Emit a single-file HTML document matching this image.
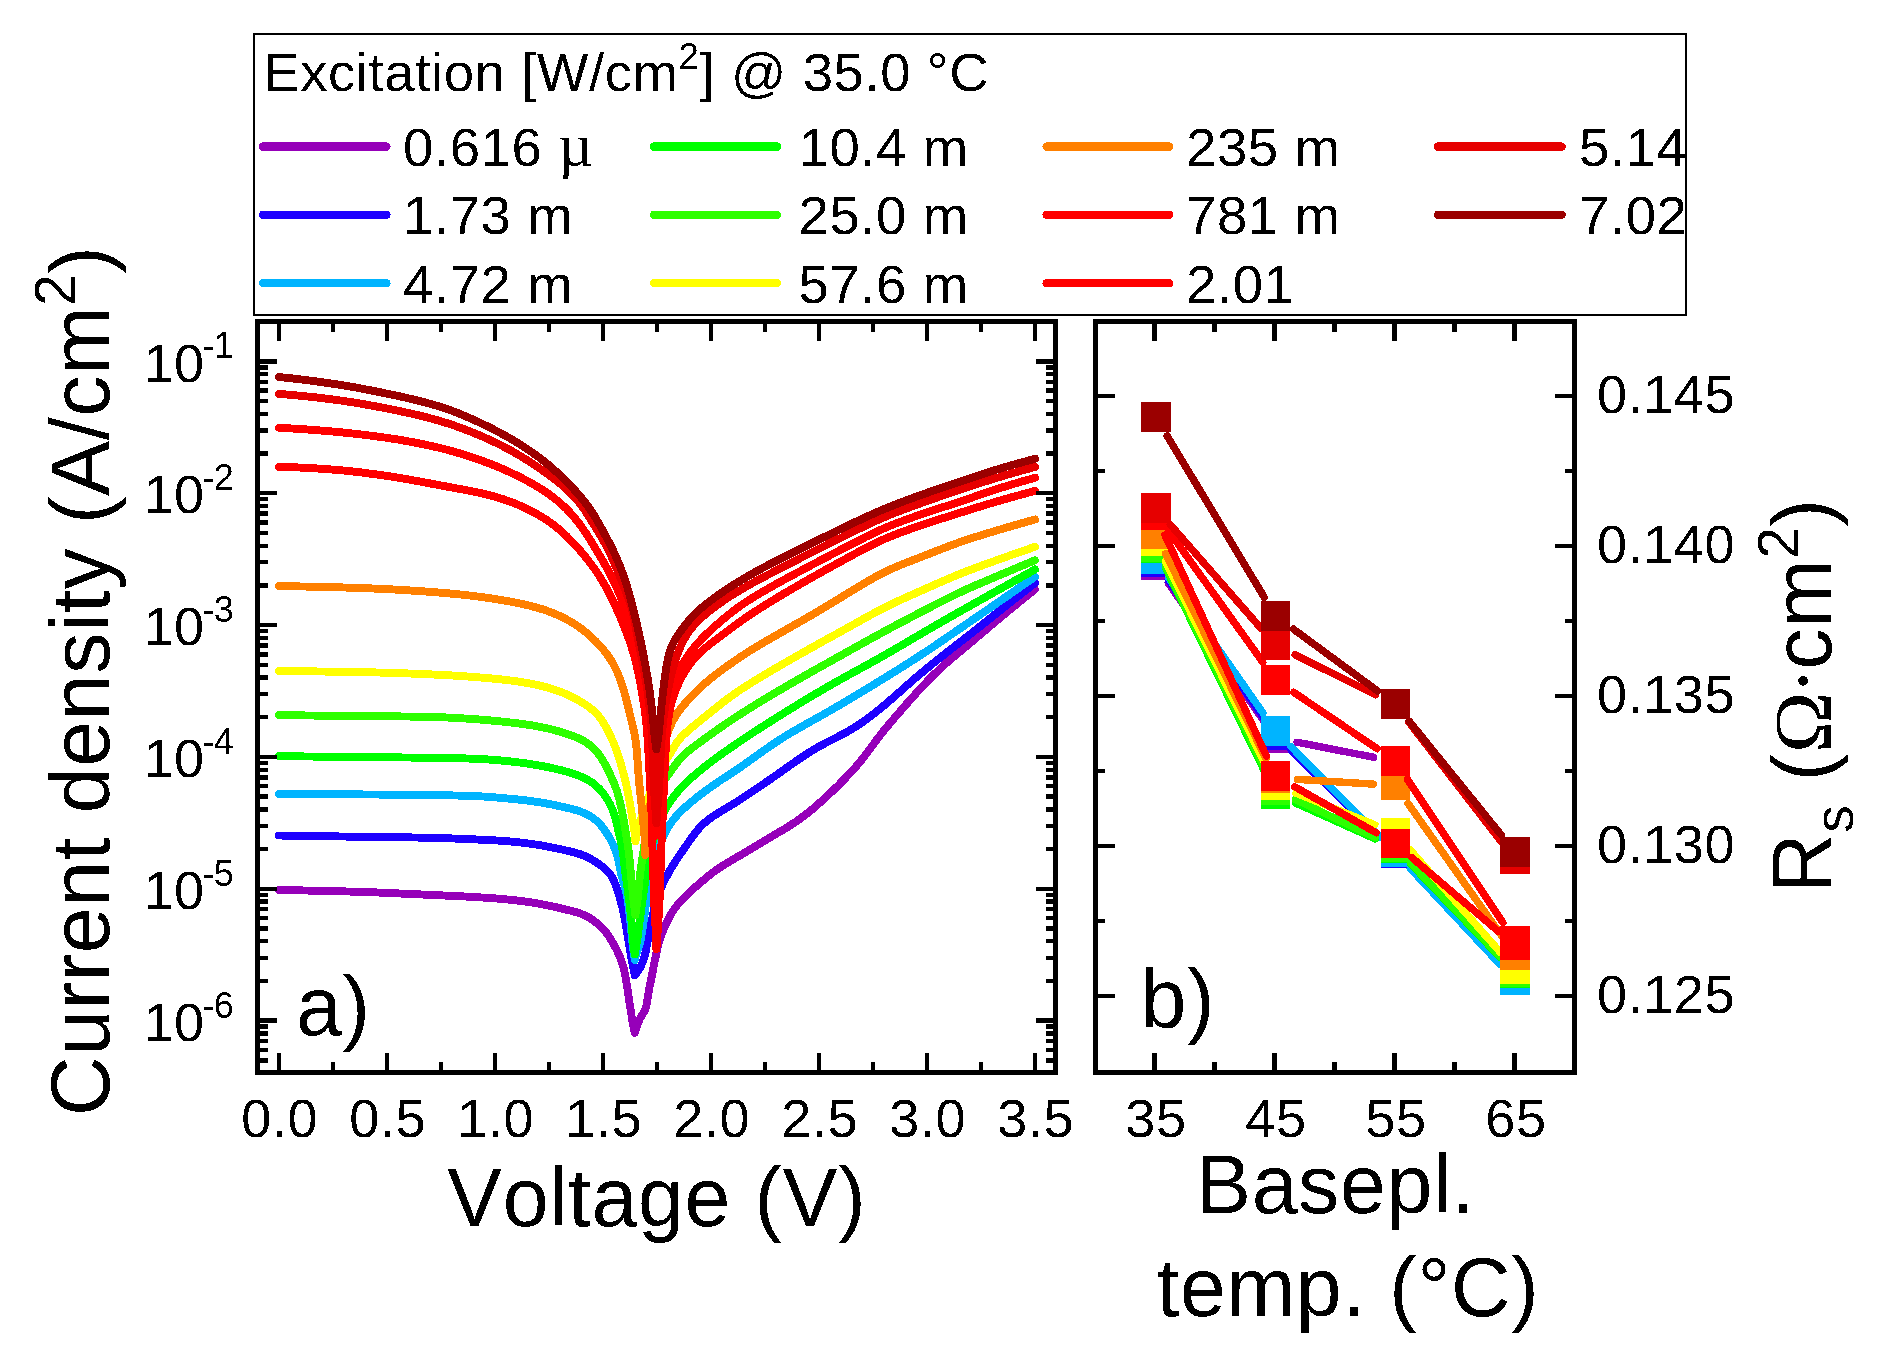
<!DOCTYPE html>
<html lang="en">
<head>
<meta charset="utf-8">
<title>Excitation dependent J-V curves and series resistance</title>
<style>
html,body{margin:0;padding:0;background:#fff;}
body{width:1890px;height:1353px;overflow:hidden;}
svg{display:block;}
text{fill:#000;font-kerning:none;letter-spacing:0.6px;}
</style>
</head>
<body>
<svg width="1890" height="1353" viewBox="0 0 1890 1353">
<rect x="0" y="0" width="1890" height="1353" fill="#fff"/>
<g fill="none" stroke-linecap="round" stroke-linejoin="round" shape-rendering="crispEdges" stroke-width="7.9">
<path d="M279.00,890.10 C283.68,890.16 288.36,890.22 293.04,890.29 C297.71,890.37 302.39,890.44 307.07,890.53 C311.75,890.62 316.43,890.72 321.10,890.83 C325.78,890.93 330.46,891.04 335.13,891.16 C339.81,891.28 344.49,891.40 349.16,891.54 C353.84,891.67 358.51,891.81 363.19,891.97 C367.86,892.13 372.54,892.31 377.21,892.49 C381.89,892.68 386.56,892.89 391.24,893.09 C395.91,893.30 400.58,893.52 405.26,893.74 C409.93,893.96 414.60,894.19 419.28,894.40 C423.95,894.62 428.63,894.83 433.30,895.05 C437.97,895.26 442.65,895.45 447.32,895.66 C452.00,895.88 456.67,896.08 461.34,896.31 C466.01,896.55 470.77,896.80 475.36,897.07 C479.77,897.33 484.12,897.61 488.36,897.91 C492.44,898.20 496.36,898.50 500.36,898.85 C504.35,899.19 508.43,899.57 512.33,899.99 C516.07,900.39 519.64,900.81 523.28,901.29 C526.93,901.78 530.65,902.31 534.19,902.89 C537.57,903.43 540.86,904.02 544.06,904.64 C547.08,905.23 549.95,905.85 552.89,906.50 C555.83,907.15 558.76,907.85 561.70,908.54 C564.64,909.24 567.69,909.94 570.52,910.68 C573.19,911.37 575.74,911.98 578.26,912.83 C580.77,913.66 583.33,914.60 585.62,915.70 C587.76,916.74 589.69,917.91 591.61,919.20 C593.55,920.50 595.41,921.95 597.21,923.45 C599.00,924.96 600.80,926.60 602.36,928.21 C603.80,929.69 605.05,931.15 606.28,932.72 C607.50,934.29 608.62,935.97 609.71,937.64 C610.80,939.33 611.86,941.15 612.83,942.81 C613.70,944.32 614.48,945.72 615.26,947.20 C616.04,948.68 616.81,950.17 617.52,951.68 C618.24,953.18 618.92,954.71 619.57,956.25 C620.21,957.79 620.86,959.43 621.40,960.92 C621.88,962.24 622.29,963.44 622.68,964.72 C623.08,965.99 623.43,967.28 623.76,968.57 C624.08,969.86 624.37,971.16 624.64,972.47 C624.91,973.77 625.17,975.18 625.39,976.41 C625.59,977.47 625.74,978.39 625.91,979.38 C626.08,980.37 626.24,981.36 626.41,982.35 C626.57,983.34 626.74,984.33 626.90,985.32 C627.06,986.31 627.22,987.30 627.38,988.29 C627.53,989.28 627.69,990.27 627.84,991.26 C627.99,992.25 628.13,993.25 628.28,994.24 C628.43,995.23 628.57,996.22 628.72,997.21 C628.86,998.21 629.01,999.20 629.15,1000.19 C629.30,1001.18 629.45,1002.17 629.60,1003.17 C629.75,1004.16 629.90,1005.15 630.05,1006.14 C630.21,1007.13 630.36,1008.12 630.51,1009.11 C630.67,1010.10 630.82,1011.09 630.98,1012.08 C631.13,1013.07 631.29,1014.06 631.44,1015.05 C631.60,1016.05 631.76,1017.04 631.92,1018.02 C632.08,1019.01 632.25,1020.00 632.42,1020.99 C632.59,1021.98 632.76,1022.97 632.94,1023.95 C633.11,1024.94 633.30,1025.92 633.49,1026.91 C633.68,1027.89 633.88,1028.87 634.08,1029.86 C634.28,1030.84 634.49,1031.82 634.70,1032.80" stroke="#9600b9"/>
<path d="M634.70,1032.80 C635.00,1031.84 635.28,1030.87 635.59,1029.91 C635.90,1028.95 636.22,1028.00 636.55,1027.05 C636.89,1026.10 637.24,1025.16 637.60,1024.23 C637.96,1023.30 638.33,1022.37 638.73,1021.45 C639.13,1020.53 639.53,1019.62 639.99,1018.73 C640.45,1017.83 640.96,1016.95 641.47,1016.08 C641.98,1015.20 642.55,1014.35 643.07,1013.48 C643.58,1012.61 644.10,1011.75 644.54,1010.85 C644.97,1009.97 645.34,1009.06 645.66,1008.14 C645.98,1007.22 646.21,1006.27 646.43,1005.31 C646.66,1004.35 646.84,1003.38 647.03,1002.40 C647.21,1001.41 647.36,1000.42 647.52,999.42 C647.68,998.42 647.82,997.42 647.98,996.41 C648.13,995.41 648.27,994.41 648.43,993.41 C648.59,992.41 648.76,991.41 648.94,990.42 C649.11,989.43 649.30,988.45 649.49,987.46 C649.68,986.48 649.88,985.49 650.07,984.51 C650.27,983.53 650.46,982.61 650.67,981.56 C650.91,980.34 651.20,978.94 651.46,977.63 C651.73,976.32 651.99,975.01 652.26,973.70 C652.52,972.39 652.77,971.08 653.03,969.77 C653.29,968.45 653.53,967.21 653.80,965.83 C654.11,964.28 654.45,962.55 654.78,960.91 C655.11,959.28 655.45,957.64 655.79,956.00 C656.14,954.37 656.48,952.73 656.84,951.10 C657.20,949.46 657.53,947.90 657.95,946.20 C658.41,944.35 658.92,942.32 659.51,940.41 C660.09,938.49 660.74,936.60 661.44,934.73 C662.14,932.85 662.88,931.06 663.69,929.14 C664.57,927.07 665.55,924.83 666.55,922.71 C667.54,920.59 668.56,918.47 669.68,916.43 C670.81,914.39 671.95,912.45 673.30,910.47 C674.74,908.34 676.43,906.16 678.12,904.10 C679.83,902.05 681.59,900.13 683.49,898.14 C685.51,896.04 687.74,893.90 689.94,891.85 C692.14,889.80 694.36,887.89 696.70,885.86 C699.17,883.73 701.80,881.51 704.38,879.38 C706.95,877.25 709.45,875.13 712.17,873.06 C715.02,870.89 717.99,868.74 721.12,866.68 C724.39,864.53 727.95,862.52 731.39,860.47 C734.84,858.43 738.26,856.49 741.79,854.41 C745.45,852.24 749.17,849.99 752.96,847.71 C756.90,845.34 760.97,842.87 765.00,840.47 C769.02,838.08 773.08,835.74 777.10,833.34 C781.12,830.95 785.19,828.62 789.13,826.11 C793.07,823.61 796.97,821.04 800.74,818.30 C804.51,815.56 808.17,812.64 811.78,809.67 C815.39,806.70 818.90,803.60 822.37,800.47 C825.85,797.34 829.26,794.14 832.62,790.89 C835.99,787.65 839.31,784.35 842.58,781.00 C845.85,777.65 849.10,774.28 852.23,770.81 C855.36,767.35 858.44,763.82 861.37,760.19 C864.31,756.57 867.06,752.78 869.86,749.05 C872.67,745.31 875.36,741.48 878.22,737.78 C881.07,734.07 884.01,730.43 886.98,726.82 C889.95,723.21 893.01,719.67 896.06,716.12 C899.10,712.57 902.17,709.04 905.26,705.52 C908.35,702.01 911.44,698.50 914.58,695.03 C917.71,691.55 920.86,688.09 924.07,684.69 C927.29,681.29 930.52,677.91 933.86,674.64 C937.20,671.37 940.62,668.19 944.11,665.08 C947.59,661.96 951.20,658.98 954.77,655.96 C958.34,652.94 961.95,649.97 965.53,646.96 C969.11,643.94 972.68,640.92 976.25,637.90 C979.83,634.88 983.40,631.86 986.97,628.84 C990.55,625.82 994.12,622.80 997.70,619.79 C1001.29,616.79 1004.88,613.79 1008.48,610.81 C1012.09,607.83 1015.71,604.88 1019.35,601.93 C1022.99,598.99 1027.40,595.46 1030.30,593.15 C1032.19,591.63 1033.43,590.65 1035.00,589.40" stroke="#9600b9"/>
<path d="M279.00,835.50 C283.68,835.58 288.36,835.65 293.05,835.73 C297.73,835.80 302.41,835.88 307.09,835.95 C311.77,836.03 316.46,836.10 321.14,836.17 C325.82,836.25 330.50,836.32 335.19,836.39 C339.87,836.46 344.55,836.54 349.23,836.60 C353.91,836.67 358.60,836.74 363.28,836.80 C367.96,836.87 372.64,836.93 377.33,836.99 C382.01,837.05 386.69,837.10 391.37,837.16 C396.06,837.22 400.74,837.28 405.42,837.35 C410.10,837.42 414.78,837.49 419.47,837.58 C424.15,837.66 428.83,837.76 433.51,837.87 C438.19,837.99 442.87,838.13 447.55,838.29 C452.23,838.44 456.91,838.63 461.59,838.81 C466.27,839.00 471.03,839.21 475.63,839.42 C480.05,839.62 484.40,839.82 488.66,840.04 C492.75,840.26 496.68,840.47 500.68,840.75 C504.68,841.02 508.77,841.33 512.68,841.69 C516.42,842.04 520.00,842.43 523.65,842.88 C527.30,843.32 531.04,843.84 534.59,844.37 C537.97,844.88 541.19,845.41 544.48,846.00 C547.78,846.58 551.15,847.25 554.34,847.91 C557.37,848.53 560.24,849.15 563.19,849.82 C566.14,850.48 569.19,851.16 572.02,851.89 C574.69,852.58 577.22,853.22 579.74,854.07 C582.24,854.92 584.79,855.89 587.10,856.98 C589.27,858.00 591.21,859.16 593.21,860.37 C595.22,861.59 597.19,862.92 599.12,864.28 C601.04,865.64 603.07,867.04 604.76,868.51 C606.31,869.85 607.69,871.16 608.94,872.67 C610.19,874.18 611.27,875.86 612.25,877.58 C613.25,879.31 614.11,881.26 614.86,883.02 C615.55,884.63 616.09,886.14 616.64,887.72 C617.19,889.30 617.68,890.90 618.17,892.50 C618.66,894.11 619.13,895.72 619.60,897.33 C620.06,898.93 620.55,900.63 620.97,902.16 C621.34,903.52 621.66,904.74 621.99,906.04 C622.31,907.33 622.63,908.63 622.93,909.94 C623.23,911.24 623.51,912.55 623.79,913.86 C624.06,915.17 624.34,916.57 624.58,917.79 C624.79,918.85 624.96,919.76 625.14,920.75 C625.33,921.74 625.50,922.72 625.68,923.71 C625.85,924.70 626.03,925.69 626.19,926.68 C626.36,927.67 626.53,928.65 626.69,929.64 C626.86,930.63 627.02,931.63 627.18,932.62 C627.34,933.61 627.50,934.60 627.66,935.59 C627.82,936.58 627.98,937.57 628.14,938.56 C628.30,939.55 628.46,940.54 628.62,941.53 C628.79,942.52 628.95,943.51 629.11,944.50 C629.28,945.49 629.44,946.48 629.60,947.47 C629.76,948.46 629.92,949.46 630.08,950.45 C630.25,951.44 630.41,952.43 630.57,953.42 C630.73,954.41 630.90,955.40 631.07,956.39 C631.24,957.37 631.41,958.36 631.59,959.35 C631.77,960.34 631.95,961.32 632.13,962.31 C632.32,963.30 632.50,964.28 632.69,965.27 C632.89,966.25 633.08,967.24 633.28,968.22 C633.47,969.20 633.67,970.19 633.88,971.17 C634.08,972.15 634.34,973.40 634.49,974.12 C634.58,974.53 634.63,974.77 634.70,975.10" stroke="#1e00ff"/>
<path d="M634.70,975.10 C635.36,974.33 636.05,973.57 636.67,972.78 C637.30,971.99 637.91,971.19 638.46,970.36 C639.01,969.54 639.50,968.68 639.97,967.81 C640.44,966.94 640.87,966.04 641.28,965.13 C641.70,964.22 642.09,963.29 642.46,962.35 C642.83,961.40 643.18,960.45 643.51,959.49 C643.83,958.53 644.14,957.57 644.42,956.60 C644.70,955.64 644.96,954.68 645.20,953.71 C645.43,952.74 645.64,951.76 645.85,950.78 C646.05,949.80 646.24,948.81 646.42,947.82 C646.61,946.83 646.79,945.84 646.99,944.85 C647.18,943.87 647.37,942.88 647.57,941.90 C647.76,940.91 647.97,939.93 648.17,938.95 C648.37,937.96 648.57,936.98 648.77,936.00 C648.97,935.01 649.17,934.03 649.37,933.05 C649.57,932.07 649.77,931.08 649.97,930.10 C650.17,929.12 650.37,928.13 650.56,927.15 C650.76,926.17 650.95,925.25 651.15,924.20 C651.39,922.98 651.65,921.56 651.90,920.25 C652.15,918.93 652.38,917.61 652.63,916.29 C652.88,914.98 653.12,913.66 653.39,912.35 C653.65,911.04 653.90,909.80 654.22,908.43 C654.58,906.90 655.00,905.19 655.45,903.59 C655.90,901.98 656.40,900.38 656.92,898.80 C657.45,897.21 658.03,895.63 658.62,894.07 C659.21,892.50 659.80,891.01 660.47,889.40 C661.21,887.64 662.05,885.71 662.89,883.90 C663.74,882.08 664.63,880.27 665.55,878.49 C666.46,876.70 667.38,875.00 668.39,873.19 C669.49,871.22 670.71,869.12 671.92,867.12 C673.13,865.12 674.38,863.14 675.65,861.18 C676.93,859.21 678.19,857.33 679.55,855.32 C681.00,853.17 682.58,850.90 684.11,848.69 C685.64,846.46 687.11,844.29 688.71,842.02 C690.41,839.60 692.19,836.99 694.03,834.59 C695.86,832.21 697.64,829.88 699.72,827.65 C701.88,825.32 704.29,823.01 706.80,820.93 C709.33,818.85 712.00,817.05 714.82,815.18 C717.82,813.20 721.07,811.37 724.31,809.40 C727.69,807.34 731.27,805.24 734.70,803.09 C738.12,800.95 741.41,798.80 744.84,796.54 C748.40,794.19 752.00,791.75 755.67,789.27 C759.48,786.69 763.42,784.01 767.27,781.35 C771.13,778.70 774.98,776.03 778.82,773.34 C782.66,770.65 786.47,767.91 790.31,765.22 C794.14,762.53 797.95,759.80 801.84,757.20 C805.73,754.61 809.65,752.07 813.66,749.68 C817.67,747.29 821.79,745.07 825.91,742.86 C830.04,740.66 834.29,738.64 838.43,736.45 C842.56,734.26 846.72,732.11 850.73,729.73 C854.74,727.34 858.66,724.81 862.49,722.15 C866.34,719.49 870.07,716.65 873.76,713.78 C877.46,710.90 881.08,707.93 884.67,704.92 C888.26,701.92 891.78,698.83 895.31,695.75 C898.83,692.67 902.30,689.53 905.82,686.44 C909.33,683.35 912.85,680.25 916.41,677.21 C919.97,674.17 923.56,671.17 927.17,668.19 C930.78,665.22 934.43,662.28 938.08,659.35 C941.74,656.43 945.42,653.54 949.10,650.65 C952.78,647.76 956.49,644.90 960.18,642.02 C963.87,639.14 967.57,636.28 971.26,633.39 C974.94,630.50 978.61,627.59 982.27,624.68 C985.94,621.77 989.59,618.83 993.24,615.91 C996.90,612.99 1000.56,610.06 1004.22,607.15 C1007.89,604.24 1011.56,601.34 1015.24,598.44 C1018.92,595.55 1022.83,592.49 1026.30,589.78 C1029.37,587.38 1032.10,585.26 1035.00,583.00" stroke="#1e00ff"/>
<path d="M279.00,794.10 C283.68,794.11 288.36,794.12 293.05,794.13 C297.73,794.14 302.41,794.16 307.09,794.17 C311.77,794.19 316.46,794.21 321.14,794.23 C325.82,794.25 330.50,794.27 335.18,794.30 C339.87,794.32 344.55,794.34 349.23,794.37 C353.91,794.39 358.59,794.42 363.28,794.45 C367.96,794.48 372.64,794.51 377.32,794.55 C382.00,794.58 386.68,794.62 391.37,794.66 C396.05,794.71 400.73,794.75 405.41,794.80 C410.09,794.85 414.78,794.90 419.46,794.95 C424.14,795.01 428.82,795.06 433.50,795.13 C438.19,795.19 442.87,795.26 447.55,795.34 C452.23,795.42 456.91,795.50 461.59,795.63 C466.27,795.76 470.95,795.90 475.62,796.12 C480.30,796.34 484.97,796.62 489.64,796.95 C494.31,797.28 499.07,797.69 503.64,798.10 C508.05,798.50 512.39,798.92 516.63,799.37 C520.70,799.80 524.61,800.23 528.59,800.74 C532.57,801.26 536.63,801.82 540.50,802.45 C544.21,803.05 547.75,803.70 551.36,804.41 C554.98,805.12 558.67,805.92 562.18,806.71 C565.54,807.46 568.84,808.20 571.99,809.05 C574.97,809.85 577.81,810.60 580.61,811.64 C583.39,812.68 586.16,813.83 588.73,815.29 C591.31,816.75 593.85,818.54 596.05,820.40 C598.11,822.15 599.88,824.05 601.59,826.08 C603.31,828.11 604.89,830.41 606.32,832.57 C607.67,834.58 608.84,836.55 609.99,838.59 C611.13,840.64 612.24,842.71 613.21,844.83 C614.19,846.95 615.10,849.21 615.85,851.32 C616.55,853.28 617.11,855.13 617.63,857.06 C618.15,859.00 618.58,860.96 618.99,862.92 C619.41,864.88 619.74,866.96 620.11,868.83 C620.45,870.55 620.75,872.12 621.13,873.74 C621.50,875.37 621.93,876.99 622.37,878.61 C622.81,880.22 623.32,881.92 623.76,883.44 C624.15,884.80 624.51,886.01 624.87,887.31 C625.22,888.59 625.58,889.89 625.89,891.18 C626.21,892.48 626.49,893.78 626.75,895.09 C627.02,896.39 627.24,897.71 627.46,899.02 C627.68,900.34 627.89,901.76 628.06,902.98 C628.22,904.05 628.34,904.97 628.48,905.97 C628.61,906.96 628.74,907.96 628.87,908.95 C628.99,909.95 629.11,910.95 629.23,911.95 C629.35,912.95 629.47,913.95 629.59,914.94 C629.70,915.94 629.82,916.94 629.93,917.94 C630.04,918.93 630.16,919.93 630.27,920.93 C630.38,921.93 630.48,922.92 630.58,923.92 C630.69,924.92 630.78,925.92 630.88,926.92 C630.98,927.91 631.07,928.91 631.17,929.91 C631.26,930.91 631.36,931.91 631.45,932.91 C631.55,933.91 631.64,934.91 631.74,935.91 C631.84,936.91 631.93,937.90 632.04,938.90 C632.14,939.90 632.25,940.90 632.36,941.89 C632.47,942.89 632.58,943.89 632.70,944.88 C632.82,945.88 632.94,946.87 633.07,947.87 C633.20,948.87 633.32,949.86 633.46,950.85 C633.59,951.85 633.72,952.84 633.86,953.84 C633.99,954.83 634.13,955.83 634.27,956.82 C634.41,957.81 634.56,958.81 634.70,959.80" stroke="#00b4ff"/>
<path d="M634.70,959.80 C634.96,958.83 635.21,957.86 635.47,956.89 C635.74,955.92 636.01,954.96 636.29,954.00 C636.57,953.04 636.86,952.08 637.17,951.12 C637.47,950.17 637.81,949.22 638.14,948.28 C638.47,947.33 638.84,946.39 639.15,945.44 C639.46,944.49 639.75,943.54 640.01,942.58 C640.26,941.62 640.47,940.65 640.68,939.67 C640.89,938.70 641.07,937.72 641.26,936.73 C641.44,935.75 641.61,934.76 641.77,933.77 C641.94,932.78 642.09,931.79 642.25,930.80 C642.40,929.80 642.55,928.81 642.69,927.81 C642.84,926.81 642.98,925.82 643.12,924.82 C643.26,923.83 643.40,922.83 643.55,921.84 C643.69,920.84 643.84,919.85 643.98,918.86 C644.12,917.86 644.26,916.87 644.40,915.88 C644.53,914.89 644.66,913.89 644.79,912.90 C644.92,911.91 645.05,910.91 645.17,909.92 C645.30,908.92 645.41,908.00 645.55,906.93 C645.71,905.70 645.88,904.28 646.06,902.96 C646.24,901.63 646.42,900.31 646.61,898.99 C646.80,897.66 647.00,896.34 647.20,895.02 C647.41,893.70 647.61,892.46 647.85,891.07 C648.11,889.51 648.41,887.77 648.70,886.13 C649.00,884.48 649.31,882.84 649.63,881.19 C649.95,879.55 650.28,877.92 650.63,876.28 C650.97,874.65 651.31,873.10 651.71,871.40 C652.15,869.54 652.66,867.51 653.18,865.58 C653.70,863.64 654.26,861.72 654.84,859.80 C655.42,857.88 656.01,856.04 656.67,854.06 C657.38,851.93 658.17,849.63 658.98,847.44 C659.79,845.24 660.62,843.06 661.53,840.90 C662.43,838.74 663.33,836.66 664.39,834.49 C665.51,832.17 666.77,829.69 668.12,827.39 C669.47,825.11 670.86,822.92 672.50,820.75 C674.23,818.44 676.26,816.12 678.31,813.94 C680.36,811.76 682.53,809.75 684.80,807.66 C687.21,805.46 689.82,803.21 692.39,801.07 C694.95,798.93 697.50,796.90 700.21,794.81 C703.06,792.62 706.02,790.44 709.08,788.26 C712.27,785.98 715.65,783.67 718.98,781.43 C722.30,779.19 725.61,777.08 729.02,774.81 C732.56,772.46 736.19,770.07 739.84,767.56 C743.62,764.96 747.51,762.20 751.32,759.49 C755.14,756.78 758.92,754.01 762.74,751.32 C766.57,748.63 770.38,745.92 774.26,743.33 C778.14,740.74 782.06,738.20 786.03,735.75 C790.01,733.30 794.04,730.95 798.09,728.62 C802.14,726.29 806.25,724.04 810.33,721.75 C814.41,719.47 818.52,717.22 822.59,714.91 C826.66,712.61 830.72,710.28 834.77,707.93 C838.81,705.58 842.83,703.20 846.85,700.81 C850.88,698.42 854.89,696.02 858.89,693.60 C862.90,691.19 866.89,688.76 870.89,686.33 C874.88,683.90 878.87,681.45 882.85,679.00 C886.83,676.55 890.81,674.09 894.78,671.62 C898.75,669.15 902.71,666.67 906.66,664.16 C910.61,661.65 914.55,659.13 918.46,656.58 C922.38,654.03 926.28,651.45 930.17,648.85 C934.06,646.25 937.92,643.62 941.79,640.99 C945.65,638.36 949.50,635.70 953.36,633.06 C957.22,630.42 961.07,627.77 964.93,625.12 C968.79,622.48 972.64,619.83 976.50,617.19 C980.35,614.54 984.21,611.89 988.06,609.24 C991.91,606.58 995.76,603.93 999.60,601.27 C1003.45,598.61 1007.29,595.95 1011.14,593.28 C1014.98,590.62 1018.82,587.95 1022.66,585.28 C1026.50,582.62 1032.56,578.40 1034.18,577.27 C1034.61,576.97 1034.73,576.89 1035.00,576.70" stroke="#00b4ff"/>
<path d="M279.00,756.20 C283.68,756.25 288.35,756.30 293.03,756.35 C297.71,756.40 302.39,756.45 307.06,756.49 C311.74,756.54 316.42,756.59 321.09,756.64 C325.77,756.69 330.45,756.74 335.13,756.79 C339.80,756.84 344.48,756.89 349.16,756.93 C353.83,756.98 358.51,757.03 363.19,757.08 C367.87,757.12 372.54,757.17 377.22,757.21 C381.90,757.26 386.57,757.30 391.25,757.35 C395.93,757.39 400.61,757.44 405.28,757.49 C409.96,757.54 414.64,757.59 419.31,757.64 C423.99,757.70 428.67,757.76 433.35,757.83 C438.02,757.89 442.70,757.96 447.38,758.04 C452.06,758.13 456.73,758.20 461.41,758.33 C466.08,758.45 470.76,758.59 475.43,758.79 C480.10,759.00 484.77,759.26 489.44,759.58 C494.10,759.90 498.77,760.28 503.42,760.72 C508.08,761.16 512.73,761.65 517.37,762.22 C522.02,762.79 526.74,763.44 531.27,764.16 C535.64,764.84 539.92,765.59 544.10,766.41 C548.12,767.19 551.96,768.02 555.87,768.94 C559.78,769.86 563.77,770.85 567.55,771.95 C571.15,772.99 574.63,773.99 578.03,775.32 C581.42,776.65 584.87,778.14 587.92,779.91 C590.83,781.60 593.51,783.49 595.99,785.65 C598.48,787.80 600.81,790.34 602.82,792.85 C604.74,795.23 606.34,797.71 607.86,800.29 C609.38,802.87 610.78,805.65 611.94,808.31 C613.03,810.81 613.88,813.25 614.68,815.78 C615.48,818.32 616.11,821.00 616.72,823.51 C617.29,825.86 617.74,828.09 618.25,830.38 C618.77,832.67 619.28,834.96 619.80,837.25 C620.33,839.53 620.92,841.89 621.38,844.09 C621.81,846.12 622.19,848.01 622.52,849.98 C622.85,851.95 623.11,853.94 623.37,855.92 C623.63,857.91 623.85,860.00 624.07,861.90 C624.27,863.64 624.44,865.23 624.63,866.89 C624.82,868.55 625.02,870.21 625.23,871.87 C625.44,873.52 625.66,875.18 625.89,876.84 C626.11,878.49 626.36,880.24 626.59,881.80 C626.78,883.20 626.96,884.44 627.15,885.77 C627.34,887.09 627.53,888.41 627.71,889.74 C627.89,891.06 628.07,892.39 628.25,893.71 C628.42,895.04 628.61,896.46 628.76,897.69 C628.90,898.75 629.02,899.68 629.14,900.67 C629.27,901.66 629.39,902.66 629.51,903.65 C629.64,904.65 629.76,905.64 629.88,906.64 C630.00,907.63 630.12,908.63 630.24,909.63 C630.35,910.62 630.47,911.62 630.58,912.61 C630.69,913.61 630.80,914.61 630.91,915.60 C631.01,916.60 631.12,917.60 631.21,918.59 C631.31,919.59 631.41,920.59 631.50,921.58 C631.59,922.58 631.68,923.58 631.76,924.58 C631.84,925.58 631.92,926.58 632.00,927.58 C632.08,928.58 632.15,929.58 632.23,930.58 C632.31,931.58 632.38,932.58 632.46,933.58 C632.54,934.58 632.62,935.57 632.70,936.57 C632.78,937.57 632.87,938.57 632.96,939.57 C633.05,940.57 633.14,941.56 633.24,942.56 C633.34,943.56 633.45,944.55 633.56,945.55 C633.68,946.55 633.80,947.54 633.92,948.54 C634.04,949.53 634.17,950.52 634.30,951.52 C634.43,952.51 634.57,953.51 634.70,954.50" stroke="#00ff00"/>
<path d="M634.70,954.50 C634.88,953.51 635.07,952.53 635.25,951.54 C635.44,950.56 635.62,949.57 635.79,948.58 C635.97,947.60 636.14,946.61 636.30,945.62 C636.47,944.63 636.62,943.64 636.78,942.65 C636.93,941.66 637.08,940.67 637.22,939.68 C637.37,938.69 637.50,937.69 637.64,936.70 C637.78,935.71 637.91,934.71 638.04,933.72 C638.18,932.73 638.30,931.73 638.43,930.74 C638.56,929.74 638.69,928.75 638.82,927.75 C638.94,926.76 639.07,925.77 639.20,924.77 C639.33,923.78 639.46,922.78 639.59,921.79 C639.72,920.79 639.85,919.80 639.98,918.81 C640.11,917.81 640.24,916.82 640.38,915.82 C640.51,914.83 640.64,913.84 640.77,912.84 C640.90,911.85 641.03,910.85 641.16,909.86 C641.30,908.87 641.43,907.87 641.56,906.88 C641.69,905.89 641.82,904.89 641.96,903.90 C642.09,902.91 642.21,901.98 642.36,900.92 C642.53,899.69 642.73,898.27 642.91,896.95 C643.10,895.62 643.29,894.30 643.48,892.98 C643.66,891.65 643.85,890.33 644.05,889.01 C644.24,887.68 644.42,886.43 644.63,885.04 C644.86,883.48 645.12,881.73 645.37,880.08 C645.63,878.43 645.89,876.78 646.16,875.13 C646.42,873.48 646.70,871.83 646.98,870.19 C647.26,868.54 647.54,866.97 647.85,865.25 C648.19,863.36 648.57,861.30 648.95,859.33 C649.33,857.36 649.73,855.39 650.14,853.43 C650.56,851.47 650.97,849.59 651.44,847.56 C651.95,845.37 652.53,843.01 653.13,840.74 C653.72,838.48 654.35,836.21 655.03,833.97 C655.70,831.73 656.38,829.57 657.19,827.29 C658.06,824.87 659.04,822.30 660.10,819.86 C661.17,817.41 662.29,815.07 663.58,812.64 C664.95,810.06 666.50,807.37 668.11,804.83 C669.71,802.29 671.37,799.87 673.22,797.41 C675.17,794.82 677.35,792.17 679.57,789.68 C681.78,787.20 684.06,784.87 686.51,782.50 C689.09,780.00 691.84,777.54 694.68,775.07 C697.65,772.50 700.82,769.89 703.95,767.39 C707.08,764.88 710.20,762.49 713.47,760.04 C716.88,757.49 720.42,754.95 724.03,752.39 C727.78,749.73 731.70,747.02 735.56,744.38 C739.43,741.74 743.31,739.13 747.21,736.54 C751.10,733.95 755.02,731.40 758.95,728.86 C762.88,726.32 766.83,723.81 770.79,721.30 C774.74,718.80 778.71,716.32 782.68,713.85 C786.65,711.37 790.63,708.91 794.62,706.47 C798.61,704.03 802.61,701.60 806.62,699.19 C810.63,696.78 814.65,694.39 818.68,692.02 C822.72,689.65 826.76,687.29 830.82,684.97 C834.88,682.65 838.96,680.36 843.05,678.08 C847.13,675.81 851.24,673.57 855.34,671.32 C859.45,669.07 863.57,666.85 867.66,664.59 C871.76,662.34 875.86,660.08 879.94,657.79 C884.01,655.49 888.07,653.17 892.12,650.83 C896.17,648.49 900.20,646.11 904.23,643.74 C908.27,641.37 912.29,638.98 916.33,636.61 C920.36,634.24 924.40,631.88 928.45,629.54 C932.50,627.19 936.56,624.87 940.61,622.54 C944.67,620.22 948.74,617.90 952.81,615.59 C956.87,613.28 960.95,610.97 965.02,608.67 C969.09,606.37 973.16,604.07 977.24,601.77 C981.32,599.48 985.40,597.19 989.48,594.90 C993.56,592.61 997.64,590.33 1001.72,588.04 C1005.81,585.76 1009.89,583.48 1013.98,581.20 C1018.06,578.92 1022.49,576.45 1026.24,574.37 C1029.40,572.61 1032.08,571.12 1035.00,569.50" stroke="#00ff00"/>
<path d="M279.00,715.20 C283.68,715.25 288.37,715.29 293.05,715.34 C297.73,715.39 302.41,715.44 307.10,715.48 C311.78,715.53 316.46,715.58 321.15,715.63 C325.83,715.68 330.51,715.73 335.20,715.78 C339.88,715.83 344.56,715.88 349.24,715.93 C353.93,715.98 358.61,716.03 363.29,716.08 C367.98,716.12 372.66,716.17 377.34,716.21 C382.03,716.26 386.71,716.30 391.40,716.35 C396.08,716.39 400.76,716.44 405.44,716.50 C410.13,716.56 414.81,716.62 419.49,716.70 C424.17,716.79 428.85,716.87 433.53,717.01 C438.21,717.15 442.89,717.32 447.57,717.53 C452.25,717.74 456.93,718.00 461.60,718.29 C466.28,718.57 470.95,718.88 475.62,719.23 C480.29,719.57 484.96,719.95 489.62,720.37 C494.29,720.79 498.95,721.24 503.61,721.74 C508.27,722.24 512.92,722.75 517.57,723.35 C522.21,723.95 526.94,724.58 531.48,725.32 C535.84,726.04 540.12,726.82 544.29,727.72 C548.29,728.58 552.11,729.51 555.98,730.57 C559.86,731.62 563.81,732.78 567.52,734.05 C571.07,735.26 574.57,736.50 577.82,737.98 C580.90,739.38 583.82,740.84 586.55,742.66 C589.27,744.49 591.91,746.68 594.17,748.93 C596.33,751.08 598.14,753.40 599.88,755.82 C601.63,758.24 603.20,760.93 604.63,763.46 C605.99,765.86 607.12,768.20 608.29,770.61 C609.46,773.02 610.56,775.46 611.65,777.91 C612.74,780.35 613.87,782.88 614.82,785.28 C615.70,787.52 616.47,789.64 617.18,791.86 C617.90,794.08 618.52,796.34 619.12,798.60 C619.72,800.87 620.27,803.24 620.78,805.44 C621.24,807.48 621.64,809.37 622.05,811.34 C622.46,813.31 622.84,815.27 623.21,817.25 C623.58,819.22 623.95,821.28 624.27,823.17 C624.57,824.90 624.83,826.47 625.10,828.12 C625.37,829.78 625.64,831.43 625.90,833.08 C626.17,834.73 626.45,836.48 626.70,838.04 C626.92,839.43 627.13,840.68 627.34,842.00 C627.55,843.32 627.76,844.64 627.95,845.97 C628.15,847.29 628.34,848.62 628.52,849.94 C628.69,851.27 628.85,852.59 629.01,853.92 C629.16,855.25 629.31,856.68 629.43,857.91 C629.54,858.98 629.63,859.91 629.72,860.91 C629.81,861.91 629.91,862.91 630.00,863.91 C630.09,864.91 630.17,865.91 630.26,866.91 C630.35,867.91 630.44,868.91 630.53,869.91 C630.62,870.91 630.71,871.91 630.80,872.91 C630.90,873.91 630.99,874.90 631.09,875.90 C631.18,876.90 631.28,877.90 631.38,878.90 C631.47,879.90 631.57,880.90 631.66,881.90 C631.76,882.90 631.85,883.90 631.95,884.90 C632.05,885.89 632.14,886.89 632.24,887.89 C632.34,888.89 632.44,889.89 632.54,890.89 C632.64,891.89 632.74,892.89 632.84,893.88 C632.94,894.88 633.05,895.88 633.16,896.88 C633.27,897.87 633.38,898.87 633.49,899.87 C633.60,900.87 633.72,901.86 633.84,902.86 C633.96,903.85 634.08,904.85 634.21,905.85 C634.33,906.84 634.46,907.84 634.59,908.83 C634.72,909.83 634.86,910.82 634.99,911.82 C635.13,912.81 635.26,913.81 635.40,914.80" stroke="#2dff00"/>
<path d="M635.40,914.80 C635.55,913.81 635.71,912.82 635.86,911.83 C636.01,910.84 636.16,909.84 636.31,908.85 C636.45,907.86 636.59,906.87 636.73,905.88 C636.87,904.88 637.00,903.89 637.13,902.90 C637.26,901.90 637.38,900.91 637.50,899.91 C637.62,898.92 637.73,897.92 637.84,896.93 C637.95,895.93 638.05,894.93 638.15,893.94 C638.25,892.94 638.34,891.94 638.44,890.94 C638.53,889.95 638.62,888.95 638.71,887.95 C638.80,886.95 638.89,885.95 638.99,884.95 C639.08,883.95 639.17,882.96 639.27,881.96 C639.37,880.96 639.46,879.96 639.57,878.97 C639.67,877.97 639.78,876.97 639.89,875.98 C640.01,874.98 640.13,873.99 640.25,872.99 C640.37,872.00 640.50,871.01 640.63,870.01 C640.76,869.02 640.89,868.03 641.03,867.03 C641.17,866.04 641.31,865.05 641.45,864.06 C641.59,863.06 641.73,862.14 641.89,861.08 C642.07,859.85 642.29,858.44 642.49,857.11 C642.69,855.79 642.90,854.47 643.10,853.15 C643.31,851.83 643.52,850.51 643.73,849.19 C643.94,847.87 644.14,846.63 644.36,845.23 C644.62,843.67 644.90,841.93 645.18,840.28 C645.45,838.63 645.73,836.99 646.03,835.34 C646.32,833.70 646.62,832.05 646.94,830.41 C647.25,828.77 647.56,827.21 647.92,825.50 C648.32,823.63 648.77,821.58 649.22,819.63 C649.68,817.68 650.15,815.72 650.65,813.78 C651.16,811.84 651.66,809.97 652.24,807.98 C652.87,805.82 653.58,803.50 654.33,801.28 C655.08,799.06 655.86,796.85 656.74,794.68 C657.62,792.52 658.50,790.43 659.60,788.29 C660.77,786.01 662.18,783.66 663.60,781.42 C665.04,779.17 666.61,777.10 668.19,774.84 C669.88,772.44 671.64,769.86 673.42,767.43 C675.19,765.02 676.85,762.61 678.85,760.31 C680.96,757.88 683.34,755.48 685.78,753.27 C688.25,751.04 690.87,749.07 693.58,746.98 C696.43,744.78 699.45,742.62 702.50,740.39 C705.67,738.07 708.99,735.66 712.26,733.33 C715.52,730.99 718.73,728.72 722.10,726.40 C725.60,723.98 729.20,721.54 732.89,719.10 C736.71,716.56 740.71,713.98 744.66,711.47 C748.60,708.97 752.58,706.50 756.56,704.05 C760.55,701.61 764.56,699.20 768.58,696.79 C772.59,694.39 776.62,692.01 780.65,689.64 C784.68,687.27 788.72,684.91 792.77,682.57 C796.82,680.23 800.88,677.91 804.95,675.60 C809.02,673.29 813.10,671.00 817.17,668.71 C821.25,666.42 825.34,664.14 829.42,661.86 C833.50,659.57 837.59,657.29 841.67,655.01 C845.75,652.73 849.83,650.44 853.92,648.16 C858.00,645.88 862.09,643.60 866.18,641.34 C870.27,639.08 874.37,636.82 878.48,634.58 C882.58,632.34 886.70,630.12 890.82,627.92 C894.95,625.71 899.08,623.53 903.22,621.35 C907.36,619.17 911.51,617.01 915.66,614.85 C919.81,612.69 923.96,610.53 928.11,608.38 C932.26,606.22 936.41,604.05 940.58,601.93 C944.75,599.81 948.91,597.69 953.12,595.64 C957.32,593.60 961.55,591.61 965.81,589.68 C970.06,587.74 974.35,585.88 978.64,584.03 C982.94,582.17 987.26,580.37 991.57,578.54 C995.87,576.72 1000.19,574.91 1004.50,573.09 C1008.81,571.28 1013.12,569.46 1017.43,567.65 C1021.75,565.84 1027.15,563.58 1030.38,562.23 C1032.30,561.42 1033.46,560.94 1035.00,560.30" stroke="#2dff00"/>
<path d="M279.00,671.20 C283.69,671.22 288.37,671.23 293.06,671.26 C297.74,671.28 302.42,671.32 307.11,671.36 C311.79,671.40 316.48,671.45 321.16,671.51 C325.85,671.57 330.53,671.63 335.21,671.70 C339.90,671.76 344.58,671.83 349.27,671.91 C353.95,671.99 358.63,672.07 363.32,672.17 C368.00,672.26 372.68,672.37 377.37,672.49 C382.05,672.61 386.73,672.74 391.42,672.89 C396.10,673.04 400.78,673.20 405.46,673.36 C410.14,673.53 414.83,673.71 419.51,673.90 C424.19,674.09 428.87,674.29 433.54,674.51 C438.22,674.73 442.90,674.97 447.58,675.24 C452.26,675.50 456.93,675.80 461.61,676.11 C466.28,676.42 470.95,676.75 475.63,677.11 C480.30,677.47 485.06,677.85 489.64,678.27 C494.05,678.67 498.30,679.07 502.62,679.56 C506.94,680.04 511.35,680.58 515.57,681.18 C519.62,681.76 523.60,682.38 527.47,683.08 C531.17,683.75 534.70,684.44 538.29,685.26 C541.87,686.08 545.54,686.99 548.99,687.99 C552.27,688.94 555.39,689.92 558.53,691.06 C561.66,692.20 564.83,693.49 567.79,694.83 C570.60,696.11 573.22,697.44 575.86,698.88 C578.51,700.32 581.20,701.90 583.66,703.47 C585.98,704.96 588.14,706.40 590.24,708.05 C592.33,709.69 594.42,711.51 596.22,713.35 C597.89,715.06 599.34,716.80 600.72,718.66 C602.11,720.53 603.34,722.53 604.53,724.54 C605.72,726.55 606.84,728.72 607.88,730.72 C608.83,732.58 609.68,734.31 610.53,736.13 C611.39,737.95 612.21,739.78 613.01,741.62 C613.80,743.47 614.60,745.41 615.30,747.19 C615.94,748.82 616.49,750.32 617.05,751.89 C617.61,753.47 618.14,755.06 618.65,756.65 C619.17,758.24 619.65,759.84 620.12,761.45 C620.60,763.05 621.07,764.75 621.50,766.27 C621.88,767.64 622.21,768.85 622.56,770.15 C622.91,771.44 623.26,772.73 623.60,774.03 C623.94,775.32 624.28,776.62 624.60,777.92 C624.93,779.22 625.25,780.52 625.56,781.82 C625.87,783.12 626.19,784.52 626.46,785.73 C626.70,786.78 626.90,787.69 627.10,788.67 C627.31,789.65 627.51,790.64 627.71,791.62 C627.90,792.60 628.09,793.59 628.28,794.57 C628.47,795.56 628.65,796.55 628.83,797.53 C629.01,798.52 629.18,799.51 629.36,800.50 C629.53,801.49 629.70,802.48 629.87,803.47 C630.04,804.46 630.21,805.45 630.38,806.44 C630.55,807.43 630.72,808.42 630.89,809.41 C631.06,810.40 631.23,811.39 631.40,812.38 C631.57,813.37 631.75,814.36 631.92,815.34 C632.10,816.33 632.28,817.32 632.45,818.31 C632.62,819.30 632.80,820.29 632.97,821.28 C633.13,822.27 633.30,823.26 633.45,824.25 C633.60,825.24 633.75,826.24 633.89,827.23 C634.02,828.22 634.15,829.22 634.27,830.21 C634.39,831.21 634.51,832.21 634.62,833.20 C634.73,834.20 634.84,835.20 634.94,836.20 C635.04,837.20 635.14,838.30 635.23,839.20 C635.29,839.93 635.34,840.53 635.40,841.20" stroke="#ffff00"/>
<path d="M635.40,841.20 C635.61,840.22 635.82,839.24 636.04,838.25 C636.26,837.27 636.48,836.29 636.70,835.32 C636.93,834.34 637.16,833.36 637.40,832.39 C637.64,831.41 637.88,830.44 638.13,829.47 C638.38,828.50 638.63,827.53 638.89,826.56 C639.15,825.59 639.42,824.62 639.69,823.65 C639.96,822.69 640.24,821.72 640.52,820.76 C640.81,819.80 641.10,818.83 641.39,817.87 C641.68,816.91 641.98,815.95 642.28,815.00 C642.58,814.04 642.88,813.08 643.19,812.13 C643.50,811.17 643.81,810.22 644.13,809.27 C644.44,808.31 644.76,807.36 645.09,806.41 C645.41,805.46 645.74,804.51 646.07,803.56 C646.41,802.61 646.74,801.67 647.08,800.72 C647.43,799.78 647.77,798.84 648.12,797.90 C648.48,796.96 648.83,796.02 649.20,795.08 C649.56,794.15 649.92,793.22 650.30,792.28 C650.67,791.35 651.02,790.49 651.44,789.50 C651.92,788.35 652.48,787.03 653.01,785.81 C653.55,784.58 654.10,783.35 654.65,782.14 C655.21,780.92 655.77,779.70 656.34,778.49 C656.91,777.28 657.46,776.14 658.08,774.87 C658.78,773.46 659.57,771.88 660.33,770.39 C661.10,768.90 661.88,767.42 662.68,765.95 C663.48,764.48 664.30,763.02 665.14,761.58 C665.99,760.14 666.83,758.78 667.75,757.30 C668.77,755.67 669.94,753.92 670.99,752.22 C672.05,750.51 673.05,748.76 674.09,747.05 C675.13,745.35 676.05,743.65 677.26,741.98 C678.56,740.18 680.10,738.34 681.69,736.65 C683.28,734.95 685.06,733.39 686.81,731.82 C688.55,730.24 690.30,728.78 692.16,727.21 C694.14,725.54 696.29,723.80 698.37,722.11 C700.45,720.42 702.48,718.80 704.63,717.07 C706.91,715.23 709.32,713.28 711.67,711.39 C714.01,709.50 716.29,707.64 718.72,705.72 C721.27,703.70 723.97,701.57 726.64,699.56 C729.31,697.55 731.93,695.62 734.73,693.66 C737.67,691.61 740.74,689.56 743.89,687.52 C747.18,685.38 750.67,683.23 754.09,681.12 C757.51,679.01 760.89,676.99 764.41,674.88 C768.07,672.69 771.82,670.47 775.64,668.24 C779.61,665.91 783.74,663.52 787.80,661.19 C791.86,658.86 795.93,656.54 800.01,654.23 C804.08,651.93 808.17,649.63 812.26,647.35 C816.35,645.07 820.45,642.80 824.54,640.53 C828.64,638.26 832.75,636.01 836.85,633.74 C840.95,631.48 845.05,629.21 849.14,626.93 C853.24,624.66 857.32,622.35 861.42,620.07 C865.51,617.80 869.59,615.50 873.72,613.28 C877.84,611.07 881.99,608.89 886.17,606.80 C890.35,604.71 894.58,602.70 898.82,600.72 C903.07,598.74 907.35,596.84 911.63,594.92 C915.90,593.00 920.19,591.11 924.48,589.22 C928.76,587.32 933.04,585.41 937.33,583.53 C941.63,581.65 945.91,579.77 950.23,577.95 C954.55,576.14 958.88,574.36 963.23,572.63 C967.58,570.91 971.96,569.25 976.35,567.60 C980.73,565.96 985.14,564.36 989.54,562.77 C993.95,561.17 998.36,559.60 1002.77,558.03 C1007.19,556.46 1011.60,554.90 1016.03,553.36 C1020.45,551.81 1025.80,549.97 1029.30,548.76 C1031.60,547.97 1033.10,547.45 1035.00,546.80" stroke="#ffff00"/>
<path d="M279.00,586.20 C283.68,586.25 288.37,586.29 293.05,586.35 C297.73,586.41 302.41,586.48 307.09,586.57 C311.77,586.66 316.46,586.76 321.14,586.87 C325.82,586.98 330.50,587.10 335.17,587.22 C339.85,587.35 344.53,587.48 349.21,587.63 C353.89,587.77 358.57,587.92 363.25,588.10 C367.92,588.27 372.60,588.46 377.28,588.67 C381.96,588.88 386.63,589.11 391.31,589.36 C395.99,589.61 400.66,589.88 405.34,590.16 C410.01,590.44 414.68,590.74 419.35,591.05 C424.02,591.37 428.69,591.69 433.36,592.05 C438.03,592.42 442.69,592.80 447.35,593.23 C452.02,593.65 456.68,594.11 461.33,594.61 C465.99,595.11 470.64,595.64 475.28,596.22 C479.93,596.80 484.57,597.42 489.20,598.09 C493.84,598.77 498.47,599.49 503.08,600.28 C507.70,601.07 512.31,601.90 516.90,602.84 C521.48,603.78 526.06,604.76 530.60,605.92 C535.13,607.08 539.65,608.33 544.08,609.81 C548.51,611.28 552.91,612.90 557.18,614.78 C561.45,616.66 565.64,618.75 569.68,621.08 C573.71,623.41 577.71,626.05 581.39,628.77 C584.94,631.39 588.28,634.20 591.40,637.07 C594.41,639.83 597.15,642.67 599.83,645.65 C602.50,648.63 605.15,651.79 607.45,654.95 C609.64,657.96 611.61,661.04 613.35,664.15 C615.01,667.11 616.37,670.08 617.69,673.13 C619.02,676.20 620.21,679.45 621.29,682.53 C622.32,685.45 623.19,688.25 624.03,691.14 C624.88,694.03 625.64,696.94 626.39,699.85 C627.14,702.77 627.83,705.80 628.52,708.64 C629.16,711.33 629.76,713.86 630.39,716.47 C631.03,719.07 631.71,721.76 632.32,724.28 C632.88,726.64 633.43,728.84 633.92,731.13 C634.41,733.41 634.86,735.70 635.24,738.01 C635.62,740.30 635.93,742.70 636.19,744.93 C636.43,746.99 636.60,748.91 636.78,750.90 C636.96,752.89 637.11,754.89 637.26,756.90 C637.41,758.90 637.55,760.99 637.69,762.91 C637.81,764.66 637.91,766.25 638.03,767.93 C638.14,769.60 638.26,771.27 638.38,772.94 C638.51,774.61 638.64,776.37 638.77,777.95 C638.89,779.36 639.00,780.61 639.13,781.95 C639.25,783.28 639.38,784.61 639.51,785.94 C639.65,787.27 639.78,788.60 639.92,789.93 C640.06,791.26 640.21,792.59 640.35,793.92 C640.50,795.25 640.65,796.68 640.79,797.91 C640.90,798.98 641.00,799.91 641.11,800.90 C641.22,801.90 641.33,802.90 641.43,803.90 C641.54,804.89 641.65,805.89 641.75,806.89 C641.85,807.89 641.95,808.89 642.05,809.88 C642.15,810.88 642.25,811.88 642.35,812.88 C642.44,813.88 642.54,814.88 642.64,815.88 C642.73,816.87 642.83,817.87 642.93,818.87 C643.03,819.87 643.13,820.87 643.23,821.87 C643.32,822.87 643.42,823.87 643.51,824.87 C643.61,825.86 643.70,826.86 643.79,827.86 C643.88,828.86 643.97,829.86 644.05,830.86 C644.14,831.86 644.22,832.86 644.29,833.86 C644.37,834.86 644.44,835.86 644.51,836.86 C644.57,837.86 644.63,838.86 644.69,839.86 C644.74,840.87 644.79,841.87 644.84,842.87 C644.89,843.87 644.94,844.87 644.98,845.87 C645.03,846.88 645.07,847.88 645.11,848.88 C645.14,849.88 645.18,850.89 645.21,851.89 C645.24,852.89 645.27,853.90 645.30,854.90" stroke="#ff8000"/>
<path d="M645.30,854.90 C645.38,853.90 645.46,852.90 645.54,851.90 C645.62,850.90 645.70,849.90 645.79,848.90 C645.87,847.91 645.95,846.91 646.04,845.91 C646.12,844.91 646.21,843.91 646.29,842.91 C646.38,841.91 646.47,840.91 646.56,839.92 C646.65,838.92 646.74,837.92 646.83,836.92 C646.92,835.92 647.01,834.92 647.10,833.93 C647.19,832.93 647.28,831.93 647.37,830.93 C647.46,829.93 647.55,828.93 647.64,827.93 C647.74,826.94 647.83,825.94 647.92,824.94 C648.02,823.94 648.11,822.94 648.21,821.94 C648.31,820.95 648.40,819.95 648.51,818.95 C648.61,817.95 648.71,816.96 648.82,815.96 C648.93,814.96 649.04,813.97 649.15,812.97 C649.27,811.98 649.38,810.98 649.51,809.99 C649.63,809.00 649.76,808.00 649.89,807.01 C650.03,806.02 650.17,805.02 650.31,804.03 C650.45,803.04 650.59,802.12 650.75,801.06 C650.94,799.83 651.16,798.41 651.38,797.09 C651.60,795.77 651.82,794.45 652.05,793.14 C652.27,791.82 652.51,790.50 652.74,789.19 C652.98,787.87 653.20,786.63 653.46,785.24 C653.76,783.69 654.09,781.96 654.41,780.32 C654.74,778.68 655.07,777.05 655.42,775.41 C655.77,773.77 656.12,772.14 656.49,770.51 C656.86,768.88 657.22,767.33 657.63,765.63 C658.08,763.77 658.58,761.73 659.08,759.79 C659.58,757.85 660.10,755.91 660.64,753.98 C661.19,752.05 661.72,750.19 662.33,748.20 C662.99,746.05 663.73,743.73 664.48,741.52 C665.23,739.30 666.02,737.10 666.84,734.90 C667.67,732.71 668.49,730.58 669.45,728.35 C670.47,725.97 671.58,723.42 672.80,721.05 C674.02,718.69 675.26,716.44 676.75,714.16 C678.33,711.74 680.20,709.29 682.08,706.96 C683.96,704.62 685.95,702.45 688.04,700.16 C690.23,697.76 692.60,695.26 694.96,692.88 C697.31,690.51 699.65,688.23 702.17,685.93 C704.82,683.52 707.61,681.12 710.52,678.75 C713.55,676.26 716.81,673.78 720.02,671.37 C723.22,668.97 726.42,666.67 729.76,664.32 C733.23,661.86 736.80,659.37 740.48,656.92 C744.31,654.38 748.32,651.82 752.29,649.36 C756.27,646.91 760.31,644.54 764.35,642.17 C768.38,639.81 772.45,637.48 776.51,635.16 C780.57,632.83 784.64,630.53 788.70,628.21 C792.77,625.90 796.85,623.61 800.90,621.28 C804.96,618.95 809.01,616.61 813.04,614.23 C817.07,611.86 821.08,609.45 825.09,607.04 C829.10,604.64 833.10,602.20 837.10,599.78 C841.10,597.36 845.11,594.93 849.11,592.51 C853.12,590.08 857.12,587.63 861.14,585.23 C865.16,582.83 869.17,580.40 873.25,578.13 C877.33,575.87 881.45,573.68 885.64,571.64 C889.83,569.61 894.11,567.74 898.41,565.92 C902.71,564.10 907.09,562.43 911.44,560.71 C915.80,558.99 920.18,557.32 924.55,555.62 C928.91,553.92 933.26,552.19 937.63,550.50 C941.99,548.81 946.35,547.11 950.74,545.49 C955.12,543.87 959.52,542.29 963.95,540.78 C968.37,539.27 972.82,537.84 977.28,536.43 C981.74,535.01 986.22,533.66 990.70,532.30 C995.18,530.95 999.66,529.62 1004.15,528.30 C1008.64,526.98 1013.13,525.68 1017.63,524.39 C1022.13,523.10 1028.00,521.46 1031.14,520.58 C1032.82,520.11 1033.71,519.86 1035.00,519.50" stroke="#ff8000"/>
<path d="M279.00,466.80 C283.68,466.95 288.36,467.08 293.04,467.26 C297.72,467.44 302.39,467.65 307.07,467.90 C311.74,468.14 316.41,468.42 321.07,468.73 C325.74,469.04 330.40,469.36 335.06,469.75 C339.72,470.13 344.37,470.56 349.02,471.05 C353.68,471.53 358.33,472.08 362.97,472.66 C367.62,473.24 372.26,473.86 376.89,474.51 C381.52,475.15 386.15,475.82 390.77,476.53 C395.40,477.25 400.01,478.00 404.62,478.78 C409.24,479.57 413.84,480.40 418.44,481.25 C423.05,482.09 427.64,482.97 432.25,483.83 C436.85,484.69 441.45,485.55 446.05,486.41 C450.66,487.27 455.28,488.10 459.88,488.97 C464.49,489.84 469.10,490.69 473.68,491.65 C478.26,492.60 482.83,493.56 487.36,494.70 C491.88,495.83 496.39,497.05 500.83,498.46 C505.28,499.86 509.70,501.43 514.04,503.15 C518.38,504.87 522.67,506.74 526.88,508.78 C531.08,510.82 535.24,512.99 539.26,515.36 C543.28,517.73 547.22,520.25 550.99,522.99 C554.76,525.72 558.38,528.68 561.87,531.77 C565.37,534.86 568.70,538.17 571.95,541.53 C575.20,544.90 578.32,548.40 581.35,551.97 C584.39,555.53 587.33,559.17 590.15,562.91 C592.96,566.64 595.69,570.45 598.24,574.36 C600.80,578.27 603.20,582.28 605.48,586.35 C607.76,590.42 609.87,594.61 611.93,598.81 C613.99,603.01 615.94,607.27 617.84,611.55 C619.74,615.82 621.58,620.13 623.33,624.47 C625.08,628.80 626.76,633.17 628.34,637.58 C629.91,641.98 631.41,646.42 632.76,650.89 C634.10,655.36 635.31,659.88 636.40,664.42 C637.50,668.96 638.42,673.55 639.33,678.14 C640.24,682.73 641.07,687.34 641.88,691.95 C642.68,696.56 643.48,701.26 644.15,705.80 C644.79,710.17 645.36,714.48 645.83,718.71 C646.29,722.77 646.64,726.68 646.98,730.68 C647.32,734.67 647.60,738.76 647.86,742.68 C648.11,746.42 648.32,750.01 648.53,753.68 C648.73,757.35 648.92,761.11 649.11,764.70 C649.28,768.11 649.44,771.46 649.61,774.71 C649.76,777.79 649.91,780.72 650.07,783.72 C650.23,786.72 650.39,789.73 650.55,792.73 C650.71,795.73 650.87,798.83 651.01,801.74 C651.14,804.49 651.26,807.08 651.37,809.75 C651.48,812.42 651.58,815.18 651.67,817.77 C651.75,820.18 651.81,822.44 651.88,824.78 C651.95,827.12 652.01,829.46 652.07,831.79 C652.13,834.13 652.19,836.56 652.25,838.81 C652.30,840.89 652.36,842.82 652.41,844.82 C652.47,846.83 652.53,848.83 652.58,850.84 C652.64,852.84 652.71,854.93 652.76,856.85 C652.81,858.59 652.86,860.19 652.91,861.86 C652.96,863.53 653.01,865.20 653.06,866.87 C653.11,868.54 653.16,870.30 653.21,871.88 C653.25,873.29 653.29,874.55 653.33,875.89 C653.37,877.22 653.42,878.56 653.46,879.90 C653.50,881.23 653.54,882.57 653.59,883.90 C653.63,885.24 653.68,886.57 653.72,887.91 C653.77,889.25 653.82,890.68 653.86,891.92 C653.90,892.99 653.93,893.92 653.97,894.92 C654.01,895.92 654.04,896.93 654.08,897.93 C654.12,898.93 654.16,899.93 654.20,900.93 C654.23,901.93 654.27,902.94 654.32,903.94 C654.36,904.94 654.40,905.94 654.45,906.94 C654.49,907.94 654.54,908.94 654.59,909.95 C654.64,910.95 654.69,911.95 654.74,912.95 C654.80,913.95 654.85,914.95 654.90,915.95 C654.96,916.95 655.01,917.95 655.07,918.96 C655.12,919.96 655.18,920.96 655.23,921.96 C655.29,922.96 655.34,923.96 655.40,924.96 C655.45,925.96 655.50,926.96 655.55,927.97 C655.60,928.97 655.65,929.97 655.70,930.97 C655.75,931.97 655.80,932.97 655.84,933.97 C655.88,934.97 655.93,935.98 655.97,936.98 C656.01,937.98 656.05,938.98 656.08,939.98 C656.12,940.98 656.16,941.99 656.19,942.99 C656.23,943.99 656.27,944.99 656.30,945.99 C656.33,947.00 656.37,948.00 656.40,949.00" stroke="#ff0000"/>
<path d="M656.40,949.00 C656.48,948.00 656.55,947.00 656.63,946.00 C656.70,945.00 656.78,944.00 656.85,943.00 C656.92,942.00 657.00,941.00 657.07,940.00 C657.14,939.00 657.21,938.00 657.28,937.00 C657.35,936.00 657.42,935.00 657.49,934.00 C657.56,933.00 657.63,932.00 657.70,931.00 C657.77,930.00 657.84,929.00 657.91,928.00 C657.98,927.00 658.04,926.00 658.11,925.00 C658.18,924.00 658.25,923.00 658.32,922.00 C658.39,920.99 658.45,919.99 658.52,918.99 C658.58,917.99 658.65,916.99 658.71,915.99 C658.78,914.99 658.84,913.99 658.90,912.99 C658.96,911.99 659.02,910.99 659.07,909.99 C659.13,908.99 659.18,907.98 659.23,906.98 C659.28,905.98 659.33,904.98 659.38,903.98 C659.43,902.98 659.47,901.98 659.51,900.98 C659.56,899.97 659.60,898.97 659.64,897.97 C659.68,896.97 659.72,896.04 659.76,894.97 C659.80,893.73 659.86,892.29 659.90,890.96 C659.95,889.62 660.00,888.29 660.04,886.95 C660.09,885.62 660.13,884.28 660.17,882.94 C660.22,881.61 660.25,880.34 660.30,878.93 C660.35,877.36 660.40,875.59 660.45,873.92 C660.50,872.25 660.55,870.58 660.60,868.91 C660.65,867.24 660.70,865.57 660.75,863.90 C660.81,862.23 660.86,860.63 660.92,858.89 C660.98,856.98 661.05,854.88 661.12,852.88 C661.20,850.87 661.27,848.87 661.35,846.86 C661.43,844.86 661.51,842.93 661.61,840.85 C661.70,838.61 661.82,836.18 661.92,833.84 C662.03,831.51 662.14,829.17 662.25,826.83 C662.36,824.49 662.46,822.24 662.57,819.82 C662.68,817.24 662.80,814.48 662.91,811.81 C663.02,809.14 663.12,806.54 663.22,803.79 C663.34,800.87 663.44,797.78 663.56,794.77 C663.67,791.77 663.78,788.84 663.91,785.76 C664.04,782.51 664.18,779.08 664.33,775.74 C664.49,772.40 664.64,769.14 664.82,765.72 C665.00,762.14 665.20,758.46 665.42,754.71 C665.64,750.78 665.88,746.68 666.15,742.67 C666.43,738.66 666.67,734.72 667.05,730.65 C667.44,726.41 667.81,722.08 668.50,717.73 C669.20,713.22 670.08,708.53 671.25,704.03 C672.42,699.52 673.85,695.04 675.52,690.69 C677.19,686.33 679.10,682.03 681.28,677.91 C683.46,673.79 685.88,669.75 688.58,665.97 C691.28,662.20 694.28,658.61 697.49,655.27 C700.70,651.91 704.27,648.86 707.85,645.88 C711.44,642.89 715.26,640.17 719.00,637.35 C722.73,634.53 726.48,631.73 730.24,628.94 C733.99,626.16 737.73,623.35 741.55,620.65 C745.37,617.95 749.25,615.34 753.15,612.76 C757.06,610.18 761.02,607.68 764.98,605.19 C768.95,602.71 772.94,600.26 776.94,597.84 C780.95,595.42 784.97,593.04 789.01,590.67 C793.05,588.31 797.11,585.98 801.17,583.65 C805.23,581.32 809.30,579.01 813.37,576.71 C817.45,574.41 821.53,572.12 825.62,569.84 C829.70,567.57 833.80,565.31 837.91,563.06 C842.01,560.82 846.13,558.59 850.25,556.36 C854.37,554.14 858.49,551.89 862.64,549.72 C866.78,547.55 870.93,545.37 875.14,543.34 C879.34,541.31 883.59,539.37 887.88,537.55 C892.18,535.73 896.54,534.06 900.92,532.42 C905.30,530.78 909.73,529.25 914.16,527.71 C918.58,526.18 923.02,524.69 927.47,523.22 C931.91,521.74 936.36,520.30 940.82,518.87 C945.27,517.43 949.74,516.03 954.20,514.62 C958.66,513.21 963.13,511.81 967.59,510.42 C972.06,509.02 976.53,507.63 981.00,506.25 C985.47,504.88 989.95,503.52 994.43,502.19 C998.92,500.86 1003.41,499.56 1007.91,498.29 C1012.42,497.01 1016.93,495.77 1021.44,494.54 C1025.95,493.31 1030.48,492.11 1035.00,490.90" stroke="#ff0000"/>
<path d="M279.00,427.80 C283.67,428.06 288.35,428.30 293.02,428.58 C297.69,428.86 302.36,429.16 307.03,429.49 C311.69,429.81 316.36,430.16 321.02,430.54 C325.68,430.91 330.34,431.30 335.00,431.73 C339.66,432.16 344.32,432.61 348.97,433.10 C353.62,433.58 358.27,434.11 362.92,434.67 C367.57,435.22 372.21,435.81 376.84,436.44 C381.48,437.07 386.11,437.73 390.73,438.44 C395.36,439.15 399.98,439.89 404.59,440.70 C409.21,441.50 413.82,442.36 418.41,443.27 C423.00,444.18 427.58,445.13 432.14,446.17 C436.69,447.20 441.23,448.28 445.75,449.45 C450.28,450.63 454.78,451.89 459.26,453.23 C463.75,454.57 468.22,456.00 472.66,457.49 C477.10,458.98 481.52,460.54 485.90,462.19 C490.28,463.83 494.64,465.53 498.94,467.34 C503.25,469.16 507.52,471.08 511.74,473.08 C515.97,475.08 520.17,477.17 524.32,479.35 C528.46,481.53 532.59,483.75 536.60,486.15 C540.60,488.56 544.55,491.06 548.36,493.76 C552.16,496.47 555.89,499.33 559.43,502.37 C562.96,505.41 566.36,508.63 569.55,512.02 C572.73,515.42 575.69,519.04 578.53,522.73 C581.37,526.43 583.99,530.32 586.57,534.21 C589.16,538.11 591.59,542.11 594.03,546.10 C596.48,550.10 598.87,554.13 601.23,558.17 C603.59,562.22 605.96,566.26 608.18,570.38 C610.40,574.49 612.57,578.64 614.56,582.87 C616.54,587.10 618.47,591.48 620.08,595.76 C621.64,599.88 622.98,604.01 624.12,608.09 C625.21,612.01 625.97,615.86 626.82,619.77 C627.68,623.68 628.38,627.73 629.26,631.55 C630.10,635.20 631.00,638.68 631.98,642.22 C632.95,645.77 634.12,649.35 635.11,652.80 C636.04,656.09 636.96,659.31 637.76,662.46 C638.52,665.45 639.15,668.31 639.79,671.24 C640.43,674.18 641.00,677.13 641.58,680.09 C642.16,683.04 642.73,686.09 643.26,688.96 C643.76,691.66 644.23,694.22 644.69,696.85 C645.15,699.48 645.62,702.21 646.04,704.76 C646.42,707.14 646.77,709.38 647.10,711.69 C647.44,714.01 647.75,716.32 648.05,718.64 C648.34,720.96 648.63,723.37 648.88,725.61 C649.12,727.68 649.33,729.59 649.54,731.59 C649.75,733.58 649.95,735.58 650.16,737.57 C650.36,739.57 650.56,741.65 650.74,743.56 C650.91,745.30 651.06,746.89 651.22,748.55 C651.37,750.21 651.52,751.88 651.67,753.54 C651.82,755.21 651.97,756.96 652.11,758.54 C652.23,759.94 652.33,761.20 652.44,762.53 C652.54,763.86 652.64,765.20 652.74,766.53 C652.84,767.86 652.94,769.20 653.03,770.53 C653.12,771.86 653.21,773.20 653.30,774.53 C653.39,775.86 653.48,777.29 653.55,778.53 C653.62,779.60 653.68,780.53 653.74,781.53 C653.80,782.53 653.85,783.53 653.91,784.53 C653.97,785.53 654.03,786.54 654.08,787.54 C654.14,788.54 654.19,789.54 654.25,790.54 C654.30,791.54 654.36,792.54 654.41,793.54 C654.46,794.54 654.51,795.55 654.57,796.55 C654.62,797.55 654.67,798.55 654.72,799.55 C654.77,800.55 654.82,801.55 654.88,802.55 C654.93,803.56 654.98,804.56 655.03,805.56 C655.08,806.56 655.13,807.56 655.18,808.56 C655.23,809.56 655.28,810.56 655.33,811.56 C655.37,812.57 655.42,813.57 655.47,814.57 C655.52,815.57 655.57,816.57 655.61,817.57 C655.66,818.57 655.71,819.58 655.75,820.58 C655.80,821.58 655.84,822.58 655.89,823.58 C655.93,824.58 655.98,825.58 656.02,826.59 C656.06,827.59 656.11,828.59 656.15,829.59 C656.19,830.59 656.23,831.59 656.28,832.60 C656.32,833.60 656.36,834.60 656.40,835.60" stroke="#ff0000"/>
<path d="M656.40,835.60 C656.44,834.60 656.48,833.60 656.52,832.59 C656.56,831.59 656.60,830.59 656.64,829.59 C656.68,828.59 656.72,827.58 656.76,826.58 C656.81,825.58 656.85,824.58 656.90,823.58 C656.94,822.58 656.99,821.57 657.03,820.57 C657.08,819.57 657.12,818.57 657.17,817.57 C657.22,816.57 657.27,815.56 657.32,814.56 C657.36,813.56 657.41,812.56 657.46,811.56 C657.51,810.56 657.56,809.56 657.62,808.56 C657.67,807.55 657.72,806.55 657.77,805.55 C657.82,804.55 657.88,803.55 657.93,802.55 C657.99,801.55 658.04,800.55 658.10,799.54 C658.15,798.54 658.21,797.54 658.27,796.54 C658.33,795.54 658.38,794.54 658.44,793.54 C658.50,792.54 658.56,791.54 658.62,790.54 C658.69,789.54 658.75,788.53 658.81,787.53 C658.87,786.53 658.94,785.53 659.00,784.53 C659.07,783.53 659.13,782.60 659.20,781.53 C659.28,780.29 659.38,778.86 659.47,777.53 C659.56,776.19 659.65,774.86 659.75,773.53 C659.84,772.19 659.94,770.86 660.04,769.53 C660.14,768.19 660.23,766.94 660.34,765.53 C660.46,763.96 660.60,762.20 660.74,760.53 C660.88,758.87 661.02,757.20 661.16,755.54 C661.31,753.87 661.46,752.21 661.61,750.54 C661.76,748.88 661.90,747.29 662.07,745.55 C662.25,743.64 662.45,741.56 662.64,739.56 C662.84,737.56 663.03,735.57 663.24,733.57 C663.44,731.57 663.63,729.65 663.86,727.58 C664.11,725.35 664.39,722.93 664.68,720.61 C664.97,718.29 665.29,715.97 665.63,713.65 C665.98,711.33 666.33,709.09 666.75,706.70 C667.21,704.15 667.72,701.41 668.30,698.80 C668.87,696.19 669.44,693.67 670.20,691.04 C671.00,688.26 671.94,685.34 673.02,682.56 C674.10,679.77 675.32,677.09 676.69,674.33 C678.14,671.41 679.81,668.37 681.52,665.49 C683.22,662.61 684.97,659.84 686.91,657.03 C688.95,654.08 691.15,651.11 693.50,648.19 C695.96,645.14 698.65,642.04 701.40,639.13 C704.15,636.23 706.99,633.51 709.99,630.74 C713.10,627.84 716.41,625.00 719.77,622.13 C723.26,619.14 726.88,616.04 730.55,613.16 C734.22,610.27 737.95,607.47 741.79,604.82 C745.62,602.16 749.59,599.68 753.57,597.22 C757.55,594.75 761.61,592.40 765.67,590.05 C769.72,587.70 773.80,585.40 777.89,583.13 C781.98,580.86 786.09,578.63 790.21,576.41 C794.33,574.18 798.47,572.00 802.61,569.81 C806.74,567.61 810.88,565.43 815.02,563.24 C819.16,561.06 823.29,558.87 827.44,556.70 C831.58,554.53 835.73,552.37 839.89,550.21 C844.04,548.06 848.20,545.91 852.37,543.78 C856.54,541.64 860.70,539.48 864.89,537.40 C869.08,535.32 873.27,533.23 877.52,531.28 C881.76,529.33 886.04,527.47 890.36,525.69 C894.68,523.92 899.06,522.26 903.44,520.63 C907.83,519.00 912.25,517.45 916.67,515.91 C921.09,514.37 925.53,512.88 929.97,511.40 C934.41,509.93 938.87,508.50 943.32,507.05 C947.77,505.61 952.23,504.19 956.67,502.72 C961.11,501.25 965.55,499.75 969.98,498.24 C974.41,496.73 978.82,495.17 983.25,493.67 C987.68,492.16 992.11,490.65 996.56,489.21 C1001.01,487.77 1005.47,486.37 1009.95,485.02 C1014.42,483.66 1019.09,482.31 1023.41,481.06 C1027.42,479.91 1031.14,478.89 1035.00,477.80" stroke="#ff0000"/>
<path d="M279.00,393.90 C283.66,394.29 288.33,394.65 292.99,395.07 C297.65,395.49 302.31,395.94 306.96,396.42 C311.61,396.90 316.26,397.42 320.90,397.97 C325.54,398.52 330.17,399.09 334.80,399.72 C339.44,400.34 344.06,401.01 348.68,401.72 C353.30,402.43 357.92,403.20 362.53,403.99 C367.14,404.79 371.74,405.63 376.34,406.49 C380.94,407.35 385.53,408.24 390.12,409.16 C394.71,410.08 399.30,411.02 403.87,412.00 C408.45,412.99 413.03,414.00 417.58,415.09 C422.13,416.17 426.67,417.30 431.17,418.51 C435.68,419.73 440.16,421.00 444.61,422.39 C449.07,423.77 453.50,425.26 457.90,426.83 C462.31,428.40 466.69,430.08 471.04,431.82 C475.39,433.56 479.71,435.38 483.99,437.27 C488.27,439.16 492.52,441.10 496.72,443.15 C500.92,445.20 505.07,447.35 509.17,449.59 C513.28,451.83 517.33,454.17 521.33,456.58 C525.33,459.00 529.29,461.50 533.20,464.07 C537.10,466.64 540.97,469.28 544.78,472.00 C548.58,474.72 552.38,477.48 556.05,480.38 C559.71,483.28 563.35,486.22 566.77,489.39 C570.18,492.55 573.50,495.85 576.53,499.37 C579.55,502.88 582.30,506.65 584.94,510.48 C587.58,514.31 589.89,518.39 592.35,522.36 C594.81,526.33 597.32,530.28 599.70,534.30 C602.08,538.31 604.49,542.32 606.64,546.45 C608.80,550.58 610.73,554.84 612.63,559.10 C614.53,563.37 616.26,567.72 618.03,572.05 C619.81,576.38 621.59,580.80 623.27,585.07 C624.90,589.18 626.53,593.21 627.97,597.21 C629.34,601.05 630.65,604.75 631.74,608.59 C632.83,612.43 633.71,616.42 634.50,620.24 C635.27,623.91 635.79,627.56 636.43,631.09 C637.04,634.46 637.61,637.67 638.24,640.95 C638.88,644.23 639.59,647.58 640.24,650.77 C640.86,653.79 641.46,656.66 642.04,659.61 C642.62,662.56 643.21,665.59 643.74,668.46 C644.24,671.17 644.70,673.72 645.16,676.35 C645.61,678.99 646.05,681.62 646.47,684.26 C646.88,686.90 647.28,689.63 647.64,692.19 C647.98,694.58 648.29,696.82 648.58,699.14 C648.88,701.46 649.17,703.78 649.43,706.10 C649.70,708.43 649.95,710.84 650.17,713.08 C650.37,715.15 650.54,717.07 650.71,719.06 C650.88,721.06 651.04,723.06 651.20,725.06 C651.35,727.05 651.50,729.14 651.62,731.05 C651.74,732.80 651.84,734.39 651.93,736.05 C652.03,737.72 652.11,739.39 652.19,741.06 C652.27,742.73 652.34,744.49 652.39,746.06 C652.45,747.47 652.49,748.73 652.53,750.07 C652.58,751.40 652.62,752.74 652.66,754.07 C652.70,755.41 652.74,756.74 652.78,758.08 C652.82,759.42 652.86,760.75 652.91,762.09 C652.95,763.42 653.00,764.85 653.05,766.09 C653.09,767.17 653.12,768.09 653.16,769.10 C653.20,770.10 653.24,771.10 653.27,772.10 C653.31,773.10 653.35,774.10 653.39,775.10 C653.43,776.11 653.47,777.11 653.51,778.11 C653.56,779.11 653.60,780.11 653.64,781.11 C653.69,782.11 653.73,783.11 653.78,784.11 C653.83,785.11 653.87,786.11 653.93,787.12 C653.98,788.12 654.03,789.12 654.09,790.12 C654.15,791.12 654.21,792.12 654.27,793.12 C654.34,794.12 654.41,795.11 654.48,796.11 C654.55,797.11 654.62,798.11 654.69,799.11 C654.77,800.11 654.84,801.11 654.92,802.11 C654.99,803.11 655.07,804.11 655.14,805.11 C655.22,806.11 655.29,807.11 655.36,808.11 C655.44,809.11 655.51,810.11 655.58,811.10 C655.65,812.10 655.71,813.10 655.78,814.10 C655.85,815.10 655.92,816.10 655.99,817.10 C656.06,818.10 656.13,819.10 656.20,820.10 C656.26,821.10 656.33,822.10 656.40,823.10" stroke="#e60000"/>
<path d="M656.40,823.10 C656.47,822.10 656.53,821.10 656.60,820.10 C656.66,819.10 656.73,818.10 656.80,817.10 C656.87,816.10 656.94,815.10 657.01,814.10 C657.08,813.10 657.15,812.10 657.22,811.10 C657.30,810.10 657.37,809.10 657.45,808.11 C657.53,807.11 657.61,806.11 657.69,805.11 C657.77,804.11 657.86,803.11 657.94,802.11 C658.02,801.11 658.11,800.12 658.19,799.12 C658.28,798.12 658.36,797.12 658.44,796.12 C658.53,795.12 658.61,794.12 658.68,793.12 C658.76,792.13 658.83,791.13 658.89,790.13 C658.96,789.13 659.02,788.13 659.08,787.13 C659.14,786.13 659.20,785.13 659.26,784.13 C659.31,783.13 659.36,782.13 659.41,781.12 C659.46,780.12 659.51,779.12 659.56,778.12 C659.61,777.12 659.65,776.12 659.70,775.12 C659.75,774.12 659.80,773.12 659.84,772.12 C659.89,771.11 659.93,770.19 659.99,769.11 C660.05,767.87 660.12,766.44 660.19,765.11 C660.25,763.77 660.32,762.44 660.39,761.11 C660.46,759.77 660.52,758.44 660.59,757.10 C660.66,755.77 660.72,754.51 660.80,753.10 C660.88,751.52 660.97,749.76 661.07,748.10 C661.16,746.43 661.26,744.76 661.37,743.10 C661.48,741.43 661.60,739.76 661.72,738.10 C661.84,736.43 661.97,734.84 662.11,733.10 C662.27,731.19 662.45,729.10 662.64,727.11 C662.83,725.11 663.03,723.12 663.24,721.13 C663.45,719.13 663.67,717.22 663.92,715.16 C664.20,712.93 664.52,710.52 664.86,708.21 C665.19,705.90 665.57,703.59 665.96,701.28 C666.35,698.97 666.75,696.75 667.20,694.37 C667.67,691.83 668.20,689.12 668.73,686.50 C669.27,683.88 669.80,681.33 670.41,678.64 C671.06,675.79 671.76,672.77 672.53,669.87 C673.30,666.96 674.08,664.14 675.01,661.21 C676.00,658.10 677.12,654.84 678.35,651.72 C679.57,648.61 680.84,645.58 682.39,642.53 C684.00,639.36 685.78,636.15 687.88,633.10 C690.07,629.90 692.66,626.73 695.35,623.80 C698.04,620.86 700.95,618.19 704.02,615.51 C707.22,612.71 710.66,610.04 714.19,607.38 C717.86,604.63 721.77,601.89 725.65,599.28 C729.52,596.67 733.47,594.17 737.46,591.74 C741.45,589.31 745.51,586.99 749.59,584.71 C753.66,582.42 757.79,580.21 761.92,578.01 C766.04,575.80 770.19,573.63 774.34,571.46 C778.48,569.30 782.64,567.16 786.81,565.04 C790.97,562.91 795.15,560.80 799.32,558.69 C803.49,556.57 807.67,554.47 811.84,552.36 C816.01,550.25 820.18,548.13 824.36,546.02 C828.53,543.91 832.71,541.81 836.89,539.72 C841.07,537.63 845.26,535.55 849.46,533.49 C853.66,531.42 857.86,529.36 862.08,527.34 C866.29,525.32 870.51,523.30 874.77,521.37 C879.03,519.45 883.31,517.58 887.62,515.78 C891.94,513.99 896.29,512.29 900.65,510.61 C905.02,508.94 909.42,507.34 913.81,505.74 C918.21,504.14 922.62,502.57 927.03,501.01 C931.44,499.45 935.85,497.91 940.28,496.39 C944.70,494.87 949.13,493.37 953.56,491.87 C957.99,490.38 962.43,488.90 966.87,487.43 C971.31,485.96 975.75,484.50 980.20,483.06 C984.65,481.63 989.10,480.21 993.57,478.83 C998.04,477.45 1002.52,476.11 1007.00,474.80 C1011.49,473.48 1015.99,472.21 1020.50,470.95 C1025.00,469.70 1032.13,467.78 1034.03,467.26 C1034.54,467.12 1034.68,467.09 1035.00,467.00" stroke="#e60000"/>
<path d="M279.00,377.00 C283.65,377.50 288.31,377.98 292.95,378.50 C297.60,379.03 302.24,379.58 306.88,380.16 C311.52,380.74 316.15,381.35 320.78,382.00 C325.41,382.64 330.03,383.31 334.65,384.02 C339.27,384.73 343.88,385.47 348.49,386.26 C353.10,387.04 357.70,387.87 362.30,388.73 C366.90,389.58 371.49,390.48 376.07,391.40 C380.66,392.32 385.24,393.26 389.82,394.23 C394.40,395.19 398.98,396.17 403.55,397.20 C408.12,398.23 412.69,399.28 417.23,400.41 C421.77,401.53 426.30,402.69 430.78,403.97 C435.26,405.24 439.71,406.58 444.12,408.06 C448.54,409.54 452.92,411.14 457.26,412.84 C461.61,414.55 465.93,416.39 470.21,418.28 C474.50,420.17 478.76,422.16 482.98,424.19 C487.20,426.22 491.40,428.29 495.55,430.45 C499.70,432.60 503.81,434.82 507.87,437.13 C511.93,439.45 515.95,441.85 519.91,444.34 C523.86,446.83 527.78,449.40 531.61,452.07 C535.44,454.74 539.22,457.50 542.89,460.38 C546.56,463.26 550.14,466.26 553.64,469.36 C557.14,472.45 560.54,475.67 563.88,478.94 C567.22,482.22 570.50,485.57 573.67,489.01 C576.83,492.45 579.97,495.93 582.89,499.58 C585.80,503.21 588.61,507.04 591.15,510.83 C593.61,514.49 595.75,518.17 597.93,521.91 C600.11,525.66 602.22,529.57 604.25,533.32 C606.19,536.91 608.09,540.46 609.87,543.95 C611.56,547.30 613.15,550.52 614.68,553.85 C616.21,557.18 617.70,560.64 619.06,563.95 C620.36,567.11 621.53,570.16 622.67,573.30 C623.81,576.43 624.91,579.68 625.90,582.77 C626.84,585.71 627.66,588.51 628.48,591.40 C629.31,594.29 630.10,597.28 630.85,600.10 C631.55,602.76 632.20,605.28 632.85,607.87 C633.51,610.46 634.18,613.14 634.80,615.64 C635.38,617.99 635.91,620.19 636.45,622.46 C636.98,624.73 637.51,627.01 638.03,629.29 C638.55,631.57 639.07,633.94 639.55,636.14 C639.99,638.17 640.39,640.05 640.80,642.01 C641.21,643.97 641.61,645.94 642.01,647.90 C642.41,649.86 642.81,651.92 643.18,653.80 C643.51,655.51 643.81,657.08 644.12,658.72 C644.43,660.36 644.74,662.00 645.04,663.64 C645.34,665.28 645.64,666.92 645.94,668.57 C646.24,670.21 646.55,671.95 646.82,673.50 C647.06,674.89 647.28,676.13 647.50,677.45 C647.72,678.77 647.94,680.08 648.15,681.40 C648.36,682.72 648.57,684.04 648.77,685.36 C648.97,686.68 649.17,688.00 649.36,689.32 C649.55,690.64 649.75,692.06 649.92,693.29 C650.06,694.35 650.19,695.27 650.32,696.26 C650.46,697.26 650.59,698.25 650.71,699.24 C650.84,700.24 650.97,701.23 651.10,702.23 C651.22,703.22 651.34,704.22 651.46,705.21 C651.58,706.20 651.70,707.20 651.82,708.19 C651.94,709.19 652.05,710.18 652.16,711.18 C652.27,712.18 652.39,713.17 652.49,714.17 C652.60,715.16 652.70,716.16 652.80,717.16 C652.90,718.15 652.99,719.15 653.09,720.15 C653.18,721.14 653.27,722.14 653.36,723.14 C653.45,724.14 653.53,725.14 653.63,726.13 C653.72,727.13 653.81,728.13 653.90,729.13 C654.00,730.12 654.09,731.12 654.20,732.12 C654.30,733.11 654.41,734.11 654.52,735.10 C654.63,736.10 654.75,737.09 654.88,738.09 C655.00,739.08 655.13,740.07 655.26,741.07 C655.40,742.06 655.53,743.05 655.67,744.04 C655.81,745.03 655.97,746.13 656.11,747.02 C656.21,747.75 656.30,748.34 656.40,749.00" stroke="#9b0000"/>
<path d="M656.40,749.00 C656.56,748.01 656.73,747.02 656.89,746.03 C657.05,745.04 657.21,744.05 657.36,743.06 C657.52,742.07 657.67,741.08 657.81,740.08 C657.95,739.09 658.09,738.10 658.22,737.11 C658.35,736.11 658.48,735.12 658.60,734.12 C658.72,733.13 658.83,732.13 658.94,731.14 C659.04,730.14 659.15,729.14 659.25,728.15 C659.35,727.15 659.44,726.15 659.54,725.15 C659.63,724.15 659.73,723.16 659.82,722.16 C659.92,721.16 660.01,720.16 660.11,719.16 C660.20,718.16 660.30,717.17 660.40,716.17 C660.50,715.17 660.61,714.17 660.71,713.18 C660.81,712.18 660.92,711.18 661.03,710.18 C661.13,709.19 661.24,708.19 661.34,707.19 C661.45,706.20 661.56,705.20 661.67,704.20 C661.77,703.21 661.88,702.21 661.99,701.21 C662.10,700.22 662.21,699.22 662.33,698.22 C662.44,697.23 662.54,696.30 662.67,695.23 C662.81,694.00 662.98,692.58 663.14,691.25 C663.30,689.93 663.47,688.60 663.63,687.27 C663.79,685.94 663.96,684.62 664.13,683.29 C664.30,681.96 664.45,680.70 664.63,679.30 C664.84,677.73 665.06,675.98 665.29,674.32 C665.53,672.66 665.76,671.01 666.02,669.36 C666.28,667.71 666.54,666.06 666.84,664.42 C667.14,662.78 667.44,661.21 667.81,659.51 C668.23,657.64 668.71,655.58 669.25,653.65 C669.80,651.72 670.38,649.80 671.08,647.93 C671.79,646.07 672.54,644.31 673.47,642.47 C674.49,640.48 675.75,638.39 677.00,636.42 C678.26,634.45 679.62,632.54 680.99,630.64 C682.37,628.74 683.74,626.94 685.24,625.05 C686.85,623.02 688.59,620.86 690.35,618.86 C692.11,616.86 693.87,614.96 695.83,613.04 C697.91,611.01 700.23,608.96 702.52,607.02 C704.82,605.08 707.14,603.29 709.60,601.41 C712.18,599.43 714.95,597.40 717.68,595.46 C720.40,593.52 723.09,591.67 725.93,589.77 C728.92,587.78 732.02,585.78 735.20,583.80 C738.53,581.72 742.04,579.62 745.50,577.60 C748.96,575.57 752.39,573.64 755.97,571.65 C759.69,569.59 763.52,567.52 767.43,565.44 C771.49,563.29 775.72,561.10 779.89,558.98 C784.06,556.86 788.25,554.78 792.44,552.70 C796.64,550.63 800.84,548.58 805.04,546.51 C809.24,544.45 813.44,542.38 817.64,540.31 C821.83,538.24 826.02,536.16 830.23,534.10 C834.43,532.04 838.63,529.99 842.85,527.96 C847.06,525.93 851.29,523.92 855.52,521.93 C859.76,519.94 864.00,517.96 868.26,516.03 C872.53,514.11 876.80,512.21 881.10,510.38 C885.41,508.55 889.74,506.78 894.08,505.05 C898.43,503.33 902.80,501.67 907.19,500.03 C911.57,498.38 915.97,496.78 920.37,495.20 C924.77,493.62 929.19,492.07 933.61,490.53 C938.03,489.00 942.46,487.50 946.89,486.00 C951.32,484.49 955.76,483.01 960.20,481.53 C964.63,480.04 969.07,478.54 973.51,477.07 C977.95,475.60 982.39,474.12 986.85,472.70 C991.30,471.27 995.77,469.87 1000.24,468.52 C1004.72,467.16 1009.21,465.86 1013.71,464.58 C1018.21,463.31 1023.36,461.92 1027.25,460.86 C1030.19,460.07 1032.42,459.49 1035.00,458.80" stroke="#9b0000"/>
</g>
<g stroke="#9600b9" fill="#9600b9" stroke-width="7.4" stroke-linecap="round" shape-rendering="crispEdges">
<line x1="1168.32" y1="583.09" x2="1263.03" y2="719.91"/>
<line x1="1297.14" y1="742.24" x2="1373.71" y2="757.26"/>
<rect x="1141.10" y="550.30" width="29.4" height="29.4" stroke="none" shape-rendering="crispEdges"/>
<rect x="1260.85" y="723.30" width="29.4" height="29.4" stroke="none" shape-rendering="crispEdges"/>
<rect x="1380.60" y="746.80" width="29.4" height="29.4" stroke="none" shape-rendering="crispEdges"/>
</g>
<g stroke="#1e00ff" fill="#1e00ff" stroke-width="7.4" stroke-linecap="round" shape-rendering="crispEdges">
<line x1="1168.32" y1="580.09" x2="1263.03" y2="716.91"/>
<line x1="1291.22" y1="750.44" x2="1379.63" y2="837.56"/>
<line x1="1410.52" y1="868.89" x2="1499.83" y2="962.11"/>
<rect x="1141.10" y="547.30" width="29.4" height="29.4" stroke="none" shape-rendering="crispEdges"/>
<rect x="1260.85" y="720.30" width="29.4" height="29.4" stroke="none" shape-rendering="crispEdges"/>
<rect x="1380.60" y="838.30" width="29.4" height="29.4" stroke="none" shape-rendering="crispEdges"/>
<rect x="1500.35" y="963.30" width="29.4" height="29.4" stroke="none" shape-rendering="crispEdges"/>
</g>
<g stroke="#00b4ff" fill="#00b4ff" stroke-width="7.4" stroke-linecap="round" shape-rendering="crispEdges">
<line x1="1168.39" y1="577.44" x2="1262.96" y2="712.96"/>
<line x1="1290.99" y1="746.67" x2="1379.86" y2="836.83"/>
<line x1="1410.33" y1="868.57" x2="1500.02" y2="964.43"/>
<rect x="1141.10" y="544.70" width="29.4" height="29.4" stroke="none" shape-rendering="crispEdges"/>
<rect x="1260.85" y="716.30" width="29.4" height="29.4" stroke="none" shape-rendering="crispEdges"/>
<rect x="1380.60" y="837.80" width="29.4" height="29.4" stroke="none" shape-rendering="crispEdges"/>
<rect x="1500.35" y="965.80" width="29.4" height="29.4" stroke="none" shape-rendering="crispEdges"/>
</g>
<g stroke="#00ff00" fill="#00ff00" stroke-width="7.4" stroke-linecap="round" shape-rendering="crispEdges">
<line x1="1165.43" y1="567.78" x2="1265.92" y2="774.22"/>
<line x1="1295.61" y1="803.04" x2="1375.24" y2="838.96"/>
<line x1="1410.52" y1="863.89" x2="1499.83" y2="957.11"/>
<rect x="1141.10" y="533.30" width="29.4" height="29.4" stroke="none" shape-rendering="crispEdges"/>
<rect x="1260.85" y="779.30" width="29.4" height="29.4" stroke="none" shape-rendering="crispEdges"/>
<rect x="1380.60" y="833.30" width="29.4" height="29.4" stroke="none" shape-rendering="crispEdges"/>
<rect x="1500.35" y="958.30" width="29.4" height="29.4" stroke="none" shape-rendering="crispEdges"/>
</g>
<g stroke="#2dff00" fill="#2dff00" stroke-width="7.4" stroke-linecap="round" shape-rendering="crispEdges">
<line x1="1165.52" y1="566.73" x2="1265.83" y2="770.27"/>
<line x1="1295.41" y1="799.46" x2="1375.44" y2="837.54"/>
<line x1="1410.52" y1="862.89" x2="1499.83" y2="956.11"/>
<rect x="1141.10" y="532.30" width="29.4" height="29.4" stroke="none" shape-rendering="crispEdges"/>
<rect x="1260.85" y="775.30" width="29.4" height="29.4" stroke="none" shape-rendering="crispEdges"/>
<rect x="1380.60" y="832.30" width="29.4" height="29.4" stroke="none" shape-rendering="crispEdges"/>
<rect x="1500.35" y="957.30" width="29.4" height="29.4" stroke="none" shape-rendering="crispEdges"/>
</g>
<g stroke="#ffff00" fill="#ffff00" stroke-width="7.4" stroke-linecap="round" shape-rendering="crispEdges">
<line x1="1165.52" y1="561.44" x2="1265.83" y2="765.26"/>
<line x1="1295.97" y1="793.19" x2="1374.88" y2="824.81"/>
<line x1="1409.84" y1="849.51" x2="1500.51" y2="952.49"/>
<rect x="1141.10" y="527.00" width="29.4" height="29.4" stroke="none" shape-rendering="crispEdges"/>
<rect x="1260.85" y="770.30" width="29.4" height="29.4" stroke="none" shape-rendering="crispEdges"/>
<rect x="1380.60" y="818.30" width="29.4" height="29.4" stroke="none" shape-rendering="crispEdges"/>
<rect x="1500.35" y="954.30" width="29.4" height="29.4" stroke="none" shape-rendering="crispEdges"/>
</g>
<g stroke="#ff8000" fill="#ff8000" stroke-width="7.4" stroke-linecap="round" shape-rendering="crispEdges">
<line x1="1165.49" y1="553.75" x2="1265.86" y2="758.25"/>
<line x1="1297.51" y1="779.38" x2="1373.34" y2="784.12"/>
<line x1="1408.00" y1="803.46" x2="1502.35" y2="936.84"/>
<rect x="1141.10" y="519.30" width="29.4" height="29.4" stroke="none" shape-rendering="crispEdges"/>
<rect x="1260.85" y="763.30" width="29.4" height="29.4" stroke="none" shape-rendering="crispEdges"/>
<rect x="1380.60" y="770.80" width="29.4" height="29.4" stroke="none" shape-rendering="crispEdges"/>
<rect x="1500.35" y="940.10" width="29.4" height="29.4" stroke="none" shape-rendering="crispEdges"/>
</g>
<g stroke="#ff0000" fill="#ff0000" stroke-width="7.4" stroke-linecap="round" shape-rendering="crispEdges">
<line x1="1164.97" y1="535.00" x2="1266.38" y2="756.00"/>
<line x1="1294.72" y1="786.80" x2="1376.13" y2="832.70"/>
<line x1="1412.04" y1="857.77" x2="1498.31" y2="931.33"/>
<rect x="1141.10" y="500.30" width="29.4" height="29.4" stroke="none" shape-rendering="crispEdges"/>
<rect x="1260.85" y="761.30" width="29.4" height="29.4" stroke="none" shape-rendering="crispEdges"/>
<rect x="1380.60" y="828.80" width="29.4" height="29.4" stroke="none" shape-rendering="crispEdges"/>
<rect x="1500.35" y="930.90" width="29.4" height="29.4" stroke="none" shape-rendering="crispEdges"/>
</g>
<g stroke="#ff0000" fill="#ff0000" stroke-width="7.4" stroke-linecap="round" shape-rendering="crispEdges">
<line x1="1168.62" y1="530.88" x2="1262.73" y2="662.12"/>
<line x1="1293.77" y1="692.33" x2="1377.08" y2="748.67"/>
<line x1="1407.49" y1="779.32" x2="1502.86" y2="922.68"/>
<rect x="1141.10" y="498.30" width="29.4" height="29.4" stroke="none" shape-rendering="crispEdges"/>
<rect x="1260.85" y="665.30" width="29.4" height="29.4" stroke="none" shape-rendering="crispEdges"/>
<rect x="1380.60" y="746.30" width="29.4" height="29.4" stroke="none" shape-rendering="crispEdges"/>
<rect x="1500.35" y="926.30" width="29.4" height="29.4" stroke="none" shape-rendering="crispEdges"/>
</g>
<g stroke="#e60000" fill="#e60000" stroke-width="7.4" stroke-linecap="round" shape-rendering="crispEdges">
<line x1="1170.28" y1="524.56" x2="1261.07" y2="628.44"/>
<line x1="1295.25" y1="654.80" x2="1375.60" y2="694.80"/>
<line x1="1408.75" y1="722.01" x2="1501.60" y2="842.19"/>
<rect x="1141.10" y="493.30" width="29.4" height="29.4" stroke="none" shape-rendering="crispEdges"/>
<rect x="1260.85" y="630.30" width="29.4" height="29.4" stroke="none" shape-rendering="crispEdges"/>
<rect x="1380.60" y="689.90" width="29.4" height="29.4" stroke="none" shape-rendering="crispEdges"/>
<rect x="1500.35" y="844.90" width="29.4" height="29.4" stroke="none" shape-rendering="crispEdges"/>
</g>
<g stroke="#9b0000" fill="#9b0000" stroke-width="7.4" stroke-linecap="round" shape-rendering="crispEdges">
<line x1="1167.14" y1="435.85" x2="1264.21" y2="597.15"/>
<line x1="1293.28" y1="629.03" x2="1377.57" y2="690.97"/>
<line x1="1409.14" y1="721.10" x2="1501.21" y2="834.90"/>
<rect x="1141.10" y="402.30" width="29.4" height="29.4" stroke="none" shape-rendering="crispEdges"/>
<rect x="1260.85" y="601.30" width="29.4" height="29.4" stroke="none" shape-rendering="crispEdges"/>
<rect x="1380.60" y="689.30" width="29.4" height="29.4" stroke="none" shape-rendering="crispEdges"/>
<rect x="1500.35" y="837.30" width="29.4" height="29.4" stroke="none" shape-rendering="crispEdges"/>
</g>
<g shape-rendering="crispEdges">
<rect x="257.5" y="321.7" width="798.0" height="750.5" fill="none" stroke="#000" stroke-width="4.8"/>
<rect x="1095.3" y="321.7" width="479.5" height="750.5" fill="none" stroke="#000" stroke-width="4.8"/>
<line x1="278.80" y1="321.70" x2="278.80" y2="341.20" stroke="#000" stroke-width="4.4" stroke-linecap="butt"/>
<line x1="278.80" y1="1072.20" x2="278.80" y2="1052.70" stroke="#000" stroke-width="4.4" stroke-linecap="butt"/>
<line x1="332.80" y1="321.70" x2="332.80" y2="331.70" stroke="#000" stroke-width="4.4" stroke-linecap="butt"/>
<line x1="332.80" y1="1072.20" x2="332.80" y2="1062.20" stroke="#000" stroke-width="4.4" stroke-linecap="butt"/>
<line x1="386.80" y1="321.70" x2="386.80" y2="341.20" stroke="#000" stroke-width="4.4" stroke-linecap="butt"/>
<line x1="386.80" y1="1072.20" x2="386.80" y2="1052.70" stroke="#000" stroke-width="4.4" stroke-linecap="butt"/>
<line x1="440.80" y1="321.70" x2="440.80" y2="331.70" stroke="#000" stroke-width="4.4" stroke-linecap="butt"/>
<line x1="440.80" y1="1072.20" x2="440.80" y2="1062.20" stroke="#000" stroke-width="4.4" stroke-linecap="butt"/>
<line x1="494.80" y1="321.70" x2="494.80" y2="341.20" stroke="#000" stroke-width="4.4" stroke-linecap="butt"/>
<line x1="494.80" y1="1072.20" x2="494.80" y2="1052.70" stroke="#000" stroke-width="4.4" stroke-linecap="butt"/>
<line x1="548.80" y1="321.70" x2="548.80" y2="331.70" stroke="#000" stroke-width="4.4" stroke-linecap="butt"/>
<line x1="548.80" y1="1072.20" x2="548.80" y2="1062.20" stroke="#000" stroke-width="4.4" stroke-linecap="butt"/>
<line x1="602.80" y1="321.70" x2="602.80" y2="341.20" stroke="#000" stroke-width="4.4" stroke-linecap="butt"/>
<line x1="602.80" y1="1072.20" x2="602.80" y2="1052.70" stroke="#000" stroke-width="4.4" stroke-linecap="butt"/>
<line x1="656.80" y1="321.70" x2="656.80" y2="331.70" stroke="#000" stroke-width="4.4" stroke-linecap="butt"/>
<line x1="656.80" y1="1072.20" x2="656.80" y2="1062.20" stroke="#000" stroke-width="4.4" stroke-linecap="butt"/>
<line x1="710.80" y1="321.70" x2="710.80" y2="341.20" stroke="#000" stroke-width="4.4" stroke-linecap="butt"/>
<line x1="710.80" y1="1072.20" x2="710.80" y2="1052.70" stroke="#000" stroke-width="4.4" stroke-linecap="butt"/>
<line x1="764.80" y1="321.70" x2="764.80" y2="331.70" stroke="#000" stroke-width="4.4" stroke-linecap="butt"/>
<line x1="764.80" y1="1072.20" x2="764.80" y2="1062.20" stroke="#000" stroke-width="4.4" stroke-linecap="butt"/>
<line x1="818.80" y1="321.70" x2="818.80" y2="341.20" stroke="#000" stroke-width="4.4" stroke-linecap="butt"/>
<line x1="818.80" y1="1072.20" x2="818.80" y2="1052.70" stroke="#000" stroke-width="4.4" stroke-linecap="butt"/>
<line x1="872.80" y1="321.70" x2="872.80" y2="331.70" stroke="#000" stroke-width="4.4" stroke-linecap="butt"/>
<line x1="872.80" y1="1072.20" x2="872.80" y2="1062.20" stroke="#000" stroke-width="4.4" stroke-linecap="butt"/>
<line x1="926.80" y1="321.70" x2="926.80" y2="341.20" stroke="#000" stroke-width="4.4" stroke-linecap="butt"/>
<line x1="926.80" y1="1072.20" x2="926.80" y2="1052.70" stroke="#000" stroke-width="4.4" stroke-linecap="butt"/>
<line x1="980.80" y1="321.70" x2="980.80" y2="331.70" stroke="#000" stroke-width="4.4" stroke-linecap="butt"/>
<line x1="980.80" y1="1072.20" x2="980.80" y2="1062.20" stroke="#000" stroke-width="4.4" stroke-linecap="butt"/>
<line x1="1034.80" y1="321.70" x2="1034.80" y2="341.20" stroke="#000" stroke-width="4.4" stroke-linecap="butt"/>
<line x1="1034.80" y1="1072.20" x2="1034.80" y2="1052.70" stroke="#000" stroke-width="4.4" stroke-linecap="butt"/>
<line x1="257.50" y1="1060.34" x2="267.50" y2="1060.34" stroke="#000" stroke-width="4.4" stroke-linecap="butt"/>
<line x1="1055.50" y1="1060.34" x2="1045.50" y2="1060.34" stroke="#000" stroke-width="4.4" stroke-linecap="butt"/>
<line x1="257.50" y1="1049.90" x2="267.50" y2="1049.90" stroke="#000" stroke-width="4.4" stroke-linecap="butt"/>
<line x1="1055.50" y1="1049.90" x2="1045.50" y2="1049.90" stroke="#000" stroke-width="4.4" stroke-linecap="butt"/>
<line x1="257.50" y1="1041.07" x2="267.50" y2="1041.07" stroke="#000" stroke-width="4.4" stroke-linecap="butt"/>
<line x1="1055.50" y1="1041.07" x2="1045.50" y2="1041.07" stroke="#000" stroke-width="4.4" stroke-linecap="butt"/>
<line x1="257.50" y1="1033.43" x2="267.50" y2="1033.43" stroke="#000" stroke-width="4.4" stroke-linecap="butt"/>
<line x1="1055.50" y1="1033.43" x2="1045.50" y2="1033.43" stroke="#000" stroke-width="4.4" stroke-linecap="butt"/>
<line x1="257.50" y1="1026.68" x2="267.50" y2="1026.68" stroke="#000" stroke-width="4.4" stroke-linecap="butt"/>
<line x1="1055.50" y1="1026.68" x2="1045.50" y2="1026.68" stroke="#000" stroke-width="4.4" stroke-linecap="butt"/>
<line x1="257.50" y1="1020.65" x2="277.00" y2="1020.65" stroke="#000" stroke-width="4.4" stroke-linecap="butt"/>
<line x1="1055.50" y1="1020.65" x2="1036.00" y2="1020.65" stroke="#000" stroke-width="4.4" stroke-linecap="butt"/>
<line x1="257.50" y1="980.96" x2="267.50" y2="980.96" stroke="#000" stroke-width="4.4" stroke-linecap="butt"/>
<line x1="1055.50" y1="980.96" x2="1045.50" y2="980.96" stroke="#000" stroke-width="4.4" stroke-linecap="butt"/>
<line x1="257.50" y1="957.74" x2="267.50" y2="957.74" stroke="#000" stroke-width="4.4" stroke-linecap="butt"/>
<line x1="1055.50" y1="957.74" x2="1045.50" y2="957.74" stroke="#000" stroke-width="4.4" stroke-linecap="butt"/>
<line x1="257.50" y1="941.27" x2="267.50" y2="941.27" stroke="#000" stroke-width="4.4" stroke-linecap="butt"/>
<line x1="1055.50" y1="941.27" x2="1045.50" y2="941.27" stroke="#000" stroke-width="4.4" stroke-linecap="butt"/>
<line x1="257.50" y1="928.49" x2="267.50" y2="928.49" stroke="#000" stroke-width="4.4" stroke-linecap="butt"/>
<line x1="1055.50" y1="928.49" x2="1045.50" y2="928.49" stroke="#000" stroke-width="4.4" stroke-linecap="butt"/>
<line x1="257.50" y1="918.05" x2="267.50" y2="918.05" stroke="#000" stroke-width="4.4" stroke-linecap="butt"/>
<line x1="1055.50" y1="918.05" x2="1045.50" y2="918.05" stroke="#000" stroke-width="4.4" stroke-linecap="butt"/>
<line x1="257.50" y1="909.22" x2="267.50" y2="909.22" stroke="#000" stroke-width="4.4" stroke-linecap="butt"/>
<line x1="1055.50" y1="909.22" x2="1045.50" y2="909.22" stroke="#000" stroke-width="4.4" stroke-linecap="butt"/>
<line x1="257.50" y1="901.58" x2="267.50" y2="901.58" stroke="#000" stroke-width="4.4" stroke-linecap="butt"/>
<line x1="1055.50" y1="901.58" x2="1045.50" y2="901.58" stroke="#000" stroke-width="4.4" stroke-linecap="butt"/>
<line x1="257.50" y1="894.83" x2="267.50" y2="894.83" stroke="#000" stroke-width="4.4" stroke-linecap="butt"/>
<line x1="1055.50" y1="894.83" x2="1045.50" y2="894.83" stroke="#000" stroke-width="4.4" stroke-linecap="butt"/>
<line x1="257.50" y1="888.80" x2="277.00" y2="888.80" stroke="#000" stroke-width="4.4" stroke-linecap="butt"/>
<line x1="1055.50" y1="888.80" x2="1036.00" y2="888.80" stroke="#000" stroke-width="4.4" stroke-linecap="butt"/>
<line x1="257.50" y1="849.11" x2="267.50" y2="849.11" stroke="#000" stroke-width="4.4" stroke-linecap="butt"/>
<line x1="1055.50" y1="849.11" x2="1045.50" y2="849.11" stroke="#000" stroke-width="4.4" stroke-linecap="butt"/>
<line x1="257.50" y1="825.89" x2="267.50" y2="825.89" stroke="#000" stroke-width="4.4" stroke-linecap="butt"/>
<line x1="1055.50" y1="825.89" x2="1045.50" y2="825.89" stroke="#000" stroke-width="4.4" stroke-linecap="butt"/>
<line x1="257.50" y1="809.42" x2="267.50" y2="809.42" stroke="#000" stroke-width="4.4" stroke-linecap="butt"/>
<line x1="1055.50" y1="809.42" x2="1045.50" y2="809.42" stroke="#000" stroke-width="4.4" stroke-linecap="butt"/>
<line x1="257.50" y1="796.64" x2="267.50" y2="796.64" stroke="#000" stroke-width="4.4" stroke-linecap="butt"/>
<line x1="1055.50" y1="796.64" x2="1045.50" y2="796.64" stroke="#000" stroke-width="4.4" stroke-linecap="butt"/>
<line x1="257.50" y1="786.20" x2="267.50" y2="786.20" stroke="#000" stroke-width="4.4" stroke-linecap="butt"/>
<line x1="1055.50" y1="786.20" x2="1045.50" y2="786.20" stroke="#000" stroke-width="4.4" stroke-linecap="butt"/>
<line x1="257.50" y1="777.37" x2="267.50" y2="777.37" stroke="#000" stroke-width="4.4" stroke-linecap="butt"/>
<line x1="1055.50" y1="777.37" x2="1045.50" y2="777.37" stroke="#000" stroke-width="4.4" stroke-linecap="butt"/>
<line x1="257.50" y1="769.73" x2="267.50" y2="769.73" stroke="#000" stroke-width="4.4" stroke-linecap="butt"/>
<line x1="1055.50" y1="769.73" x2="1045.50" y2="769.73" stroke="#000" stroke-width="4.4" stroke-linecap="butt"/>
<line x1="257.50" y1="762.98" x2="267.50" y2="762.98" stroke="#000" stroke-width="4.4" stroke-linecap="butt"/>
<line x1="1055.50" y1="762.98" x2="1045.50" y2="762.98" stroke="#000" stroke-width="4.4" stroke-linecap="butt"/>
<line x1="257.50" y1="756.95" x2="277.00" y2="756.95" stroke="#000" stroke-width="4.4" stroke-linecap="butt"/>
<line x1="1055.50" y1="756.95" x2="1036.00" y2="756.95" stroke="#000" stroke-width="4.4" stroke-linecap="butt"/>
<line x1="257.50" y1="717.26" x2="267.50" y2="717.26" stroke="#000" stroke-width="4.4" stroke-linecap="butt"/>
<line x1="1055.50" y1="717.26" x2="1045.50" y2="717.26" stroke="#000" stroke-width="4.4" stroke-linecap="butt"/>
<line x1="257.50" y1="694.04" x2="267.50" y2="694.04" stroke="#000" stroke-width="4.4" stroke-linecap="butt"/>
<line x1="1055.50" y1="694.04" x2="1045.50" y2="694.04" stroke="#000" stroke-width="4.4" stroke-linecap="butt"/>
<line x1="257.50" y1="677.57" x2="267.50" y2="677.57" stroke="#000" stroke-width="4.4" stroke-linecap="butt"/>
<line x1="1055.50" y1="677.57" x2="1045.50" y2="677.57" stroke="#000" stroke-width="4.4" stroke-linecap="butt"/>
<line x1="257.50" y1="664.79" x2="267.50" y2="664.79" stroke="#000" stroke-width="4.4" stroke-linecap="butt"/>
<line x1="1055.50" y1="664.79" x2="1045.50" y2="664.79" stroke="#000" stroke-width="4.4" stroke-linecap="butt"/>
<line x1="257.50" y1="654.35" x2="267.50" y2="654.35" stroke="#000" stroke-width="4.4" stroke-linecap="butt"/>
<line x1="1055.50" y1="654.35" x2="1045.50" y2="654.35" stroke="#000" stroke-width="4.4" stroke-linecap="butt"/>
<line x1="257.50" y1="645.52" x2="267.50" y2="645.52" stroke="#000" stroke-width="4.4" stroke-linecap="butt"/>
<line x1="1055.50" y1="645.52" x2="1045.50" y2="645.52" stroke="#000" stroke-width="4.4" stroke-linecap="butt"/>
<line x1="257.50" y1="637.88" x2="267.50" y2="637.88" stroke="#000" stroke-width="4.4" stroke-linecap="butt"/>
<line x1="1055.50" y1="637.88" x2="1045.50" y2="637.88" stroke="#000" stroke-width="4.4" stroke-linecap="butt"/>
<line x1="257.50" y1="631.13" x2="267.50" y2="631.13" stroke="#000" stroke-width="4.4" stroke-linecap="butt"/>
<line x1="1055.50" y1="631.13" x2="1045.50" y2="631.13" stroke="#000" stroke-width="4.4" stroke-linecap="butt"/>
<line x1="257.50" y1="625.10" x2="277.00" y2="625.10" stroke="#000" stroke-width="4.4" stroke-linecap="butt"/>
<line x1="1055.50" y1="625.10" x2="1036.00" y2="625.10" stroke="#000" stroke-width="4.4" stroke-linecap="butt"/>
<line x1="257.50" y1="585.41" x2="267.50" y2="585.41" stroke="#000" stroke-width="4.4" stroke-linecap="butt"/>
<line x1="1055.50" y1="585.41" x2="1045.50" y2="585.41" stroke="#000" stroke-width="4.4" stroke-linecap="butt"/>
<line x1="257.50" y1="562.19" x2="267.50" y2="562.19" stroke="#000" stroke-width="4.4" stroke-linecap="butt"/>
<line x1="1055.50" y1="562.19" x2="1045.50" y2="562.19" stroke="#000" stroke-width="4.4" stroke-linecap="butt"/>
<line x1="257.50" y1="545.72" x2="267.50" y2="545.72" stroke="#000" stroke-width="4.4" stroke-linecap="butt"/>
<line x1="1055.50" y1="545.72" x2="1045.50" y2="545.72" stroke="#000" stroke-width="4.4" stroke-linecap="butt"/>
<line x1="257.50" y1="532.94" x2="267.50" y2="532.94" stroke="#000" stroke-width="4.4" stroke-linecap="butt"/>
<line x1="1055.50" y1="532.94" x2="1045.50" y2="532.94" stroke="#000" stroke-width="4.4" stroke-linecap="butt"/>
<line x1="257.50" y1="522.50" x2="267.50" y2="522.50" stroke="#000" stroke-width="4.4" stroke-linecap="butt"/>
<line x1="1055.50" y1="522.50" x2="1045.50" y2="522.50" stroke="#000" stroke-width="4.4" stroke-linecap="butt"/>
<line x1="257.50" y1="513.67" x2="267.50" y2="513.67" stroke="#000" stroke-width="4.4" stroke-linecap="butt"/>
<line x1="1055.50" y1="513.67" x2="1045.50" y2="513.67" stroke="#000" stroke-width="4.4" stroke-linecap="butt"/>
<line x1="257.50" y1="506.03" x2="267.50" y2="506.03" stroke="#000" stroke-width="4.4" stroke-linecap="butt"/>
<line x1="1055.50" y1="506.03" x2="1045.50" y2="506.03" stroke="#000" stroke-width="4.4" stroke-linecap="butt"/>
<line x1="257.50" y1="499.28" x2="267.50" y2="499.28" stroke="#000" stroke-width="4.4" stroke-linecap="butt"/>
<line x1="1055.50" y1="499.28" x2="1045.50" y2="499.28" stroke="#000" stroke-width="4.4" stroke-linecap="butt"/>
<line x1="257.50" y1="493.25" x2="277.00" y2="493.25" stroke="#000" stroke-width="4.4" stroke-linecap="butt"/>
<line x1="1055.50" y1="493.25" x2="1036.00" y2="493.25" stroke="#000" stroke-width="4.4" stroke-linecap="butt"/>
<line x1="257.50" y1="453.56" x2="267.50" y2="453.56" stroke="#000" stroke-width="4.4" stroke-linecap="butt"/>
<line x1="1055.50" y1="453.56" x2="1045.50" y2="453.56" stroke="#000" stroke-width="4.4" stroke-linecap="butt"/>
<line x1="257.50" y1="430.34" x2="267.50" y2="430.34" stroke="#000" stroke-width="4.4" stroke-linecap="butt"/>
<line x1="1055.50" y1="430.34" x2="1045.50" y2="430.34" stroke="#000" stroke-width="4.4" stroke-linecap="butt"/>
<line x1="257.50" y1="413.87" x2="267.50" y2="413.87" stroke="#000" stroke-width="4.4" stroke-linecap="butt"/>
<line x1="1055.50" y1="413.87" x2="1045.50" y2="413.87" stroke="#000" stroke-width="4.4" stroke-linecap="butt"/>
<line x1="257.50" y1="401.09" x2="267.50" y2="401.09" stroke="#000" stroke-width="4.4" stroke-linecap="butt"/>
<line x1="1055.50" y1="401.09" x2="1045.50" y2="401.09" stroke="#000" stroke-width="4.4" stroke-linecap="butt"/>
<line x1="257.50" y1="390.65" x2="267.50" y2="390.65" stroke="#000" stroke-width="4.4" stroke-linecap="butt"/>
<line x1="1055.50" y1="390.65" x2="1045.50" y2="390.65" stroke="#000" stroke-width="4.4" stroke-linecap="butt"/>
<line x1="257.50" y1="381.82" x2="267.50" y2="381.82" stroke="#000" stroke-width="4.4" stroke-linecap="butt"/>
<line x1="1055.50" y1="381.82" x2="1045.50" y2="381.82" stroke="#000" stroke-width="4.4" stroke-linecap="butt"/>
<line x1="257.50" y1="374.18" x2="267.50" y2="374.18" stroke="#000" stroke-width="4.4" stroke-linecap="butt"/>
<line x1="1055.50" y1="374.18" x2="1045.50" y2="374.18" stroke="#000" stroke-width="4.4" stroke-linecap="butt"/>
<line x1="257.50" y1="367.43" x2="267.50" y2="367.43" stroke="#000" stroke-width="4.4" stroke-linecap="butt"/>
<line x1="1055.50" y1="367.43" x2="1045.50" y2="367.43" stroke="#000" stroke-width="4.4" stroke-linecap="butt"/>
<line x1="257.50" y1="361.40" x2="277.00" y2="361.40" stroke="#000" stroke-width="4.4" stroke-linecap="butt"/>
<line x1="1055.50" y1="361.40" x2="1036.00" y2="361.40" stroke="#000" stroke-width="4.4" stroke-linecap="butt"/>
<line x1="1154.60" y1="321.70" x2="1154.60" y2="341.20" stroke="#000" stroke-width="4.4" stroke-linecap="butt"/>
<line x1="1154.60" y1="1072.20" x2="1154.60" y2="1052.70" stroke="#000" stroke-width="4.4" stroke-linecap="butt"/>
<line x1="1214.60" y1="321.70" x2="1214.60" y2="331.70" stroke="#000" stroke-width="4.4" stroke-linecap="butt"/>
<line x1="1214.60" y1="1072.20" x2="1214.60" y2="1062.20" stroke="#000" stroke-width="4.4" stroke-linecap="butt"/>
<line x1="1274.60" y1="321.70" x2="1274.60" y2="341.20" stroke="#000" stroke-width="4.4" stroke-linecap="butt"/>
<line x1="1274.60" y1="1072.20" x2="1274.60" y2="1052.70" stroke="#000" stroke-width="4.4" stroke-linecap="butt"/>
<line x1="1334.60" y1="321.70" x2="1334.60" y2="331.70" stroke="#000" stroke-width="4.4" stroke-linecap="butt"/>
<line x1="1334.60" y1="1072.20" x2="1334.60" y2="1062.20" stroke="#000" stroke-width="4.4" stroke-linecap="butt"/>
<line x1="1394.60" y1="321.70" x2="1394.60" y2="341.20" stroke="#000" stroke-width="4.4" stroke-linecap="butt"/>
<line x1="1394.60" y1="1072.20" x2="1394.60" y2="1052.70" stroke="#000" stroke-width="4.4" stroke-linecap="butt"/>
<line x1="1454.60" y1="321.70" x2="1454.60" y2="331.70" stroke="#000" stroke-width="4.4" stroke-linecap="butt"/>
<line x1="1454.60" y1="1072.20" x2="1454.60" y2="1062.20" stroke="#000" stroke-width="4.4" stroke-linecap="butt"/>
<line x1="1514.60" y1="321.70" x2="1514.60" y2="341.20" stroke="#000" stroke-width="4.4" stroke-linecap="butt"/>
<line x1="1514.60" y1="1072.20" x2="1514.60" y2="1052.70" stroke="#000" stroke-width="4.4" stroke-linecap="butt"/>
<line x1="1095.30" y1="996.00" x2="1114.80" y2="996.00" stroke="#000" stroke-width="4.4" stroke-linecap="butt"/>
<line x1="1574.80" y1="996.00" x2="1555.30" y2="996.00" stroke="#000" stroke-width="4.4" stroke-linecap="butt"/>
<line x1="1095.30" y1="921.00" x2="1105.30" y2="921.00" stroke="#000" stroke-width="4.4" stroke-linecap="butt"/>
<line x1="1574.80" y1="921.00" x2="1564.80" y2="921.00" stroke="#000" stroke-width="4.4" stroke-linecap="butt"/>
<line x1="1095.30" y1="846.00" x2="1114.80" y2="846.00" stroke="#000" stroke-width="4.4" stroke-linecap="butt"/>
<line x1="1574.80" y1="846.00" x2="1555.30" y2="846.00" stroke="#000" stroke-width="4.4" stroke-linecap="butt"/>
<line x1="1095.30" y1="771.00" x2="1105.30" y2="771.00" stroke="#000" stroke-width="4.4" stroke-linecap="butt"/>
<line x1="1574.80" y1="771.00" x2="1564.80" y2="771.00" stroke="#000" stroke-width="4.4" stroke-linecap="butt"/>
<line x1="1095.30" y1="696.00" x2="1114.80" y2="696.00" stroke="#000" stroke-width="4.4" stroke-linecap="butt"/>
<line x1="1574.80" y1="696.00" x2="1555.30" y2="696.00" stroke="#000" stroke-width="4.4" stroke-linecap="butt"/>
<line x1="1095.30" y1="621.00" x2="1105.30" y2="621.00" stroke="#000" stroke-width="4.4" stroke-linecap="butt"/>
<line x1="1574.80" y1="621.00" x2="1564.80" y2="621.00" stroke="#000" stroke-width="4.4" stroke-linecap="butt"/>
<line x1="1095.30" y1="546.00" x2="1114.80" y2="546.00" stroke="#000" stroke-width="4.4" stroke-linecap="butt"/>
<line x1="1574.80" y1="546.00" x2="1555.30" y2="546.00" stroke="#000" stroke-width="4.4" stroke-linecap="butt"/>
<line x1="1095.30" y1="471.00" x2="1105.30" y2="471.00" stroke="#000" stroke-width="4.4" stroke-linecap="butt"/>
<line x1="1574.80" y1="471.00" x2="1564.80" y2="471.00" stroke="#000" stroke-width="4.4" stroke-linecap="butt"/>
<line x1="1095.30" y1="396.00" x2="1114.80" y2="396.00" stroke="#000" stroke-width="4.4" stroke-linecap="butt"/>
<line x1="1574.80" y1="396.00" x2="1555.30" y2="396.00" stroke="#000" stroke-width="4.4" stroke-linecap="butt"/>
</g>
<rect x="254" y="34" width="1432.3" height="281" fill="#fff" stroke="#000" stroke-width="2" shape-rendering="crispEdges"/>
<line x1="263.00" y1="146.60" x2="386.40" y2="146.60" stroke="#9600b9" stroke-width="8.4" stroke-linecap="round" shape-rendering="crispEdges"/>
<line x1="263.00" y1="214.80" x2="386.40" y2="214.80" stroke="#1e00ff" stroke-width="8.4" stroke-linecap="round" shape-rendering="crispEdges"/>
<line x1="263.00" y1="283.20" x2="386.40" y2="283.20" stroke="#00b4ff" stroke-width="8.4" stroke-linecap="round" shape-rendering="crispEdges"/>
<line x1="654.00" y1="146.60" x2="777.00" y2="146.60" stroke="#00ff00" stroke-width="8.4" stroke-linecap="round" shape-rendering="crispEdges"/>
<line x1="654.00" y1="214.80" x2="777.00" y2="214.80" stroke="#2dff00" stroke-width="8.4" stroke-linecap="round" shape-rendering="crispEdges"/>
<line x1="654.00" y1="283.20" x2="777.00" y2="283.20" stroke="#ffff00" stroke-width="8.4" stroke-linecap="round" shape-rendering="crispEdges"/>
<line x1="1046.60" y1="146.60" x2="1169.30" y2="146.60" stroke="#ff8000" stroke-width="8.4" stroke-linecap="round" shape-rendering="crispEdges"/>
<line x1="1046.60" y1="214.80" x2="1169.30" y2="214.80" stroke="#ff0000" stroke-width="8.4" stroke-linecap="round" shape-rendering="crispEdges"/>
<line x1="1046.60" y1="283.20" x2="1169.30" y2="283.20" stroke="#ff0000" stroke-width="8.4" stroke-linecap="round" shape-rendering="crispEdges"/>
<line x1="1438.00" y1="146.60" x2="1561.60" y2="146.60" stroke="#e60000" stroke-width="8.4" stroke-linecap="round" shape-rendering="crispEdges"/>
<line x1="1438.00" y1="214.80" x2="1561.60" y2="214.80" stroke="#9b0000" stroke-width="8.4" stroke-linecap="round" shape-rendering="crispEdges"/>
<defs><filter id="crisp" filterUnits="userSpaceOnUse" x="0" y="0" width="1890" height="1353" color-interpolation-filters="sRGB"><feComponentTransfer><feFuncA type="discrete" tableValues="0 1"/></feComponentTransfer></filter></defs>
<g filter="url(#crisp)">
<text x="279.80" y="1136.70" font-size="54" text-anchor="middle" font-family='"Liberation Sans", Arial, Helvetica, sans-serif' >0.0</text>
<text x="387.80" y="1136.70" font-size="54" text-anchor="middle" font-family='"Liberation Sans", Arial, Helvetica, sans-serif' >0.5</text>
<text x="495.80" y="1136.70" font-size="54" text-anchor="middle" font-family='"Liberation Sans", Arial, Helvetica, sans-serif' >1.0</text>
<text x="603.80" y="1136.70" font-size="54" text-anchor="middle" font-family='"Liberation Sans", Arial, Helvetica, sans-serif' >1.5</text>
<text x="711.80" y="1136.70" font-size="54" text-anchor="middle" font-family='"Liberation Sans", Arial, Helvetica, sans-serif' >2.0</text>
<text x="819.80" y="1136.70" font-size="54" text-anchor="middle" font-family='"Liberation Sans", Arial, Helvetica, sans-serif' >2.5</text>
<text x="927.80" y="1136.70" font-size="54" text-anchor="middle" font-family='"Liberation Sans", Arial, Helvetica, sans-serif' >3.0</text>
<text x="1035.80" y="1136.70" font-size="54" text-anchor="middle" font-family='"Liberation Sans", Arial, Helvetica, sans-serif' >3.5</text>
<text x="1156.00" y="1136.70" font-size="54" text-anchor="middle" font-family='"Liberation Sans", Arial, Helvetica, sans-serif' >35</text>
<text x="1276.00" y="1136.70" font-size="54" text-anchor="middle" font-family='"Liberation Sans", Arial, Helvetica, sans-serif' >45</text>
<text x="1396.00" y="1136.70" font-size="54" text-anchor="middle" font-family='"Liberation Sans", Arial, Helvetica, sans-serif' >55</text>
<text x="1516.00" y="1136.70" font-size="54" text-anchor="middle" font-family='"Liberation Sans", Arial, Helvetica, sans-serif' >65</text>
<text x="143.40" y="1040.85" font-size="54" text-anchor="start" font-family='"Liberation Sans", Arial, Helvetica, sans-serif' >10<tspan font-size="36" dy="-23.2" dx="-2.5" letter-spacing="-0.5">-6</tspan></text>
<text x="143.40" y="909.00" font-size="54" text-anchor="start" font-family='"Liberation Sans", Arial, Helvetica, sans-serif' >10<tspan font-size="36" dy="-23.2" dx="-2.5" letter-spacing="-0.5">-5</tspan></text>
<text x="143.40" y="777.15" font-size="54" text-anchor="start" font-family='"Liberation Sans", Arial, Helvetica, sans-serif' >10<tspan font-size="36" dy="-23.2" dx="-2.5" letter-spacing="-0.5">-4</tspan></text>
<text x="143.40" y="645.30" font-size="54" text-anchor="start" font-family='"Liberation Sans", Arial, Helvetica, sans-serif' >10<tspan font-size="36" dy="-23.2" dx="-2.5" letter-spacing="-0.5">-3</tspan></text>
<text x="143.40" y="513.45" font-size="54" text-anchor="start" font-family='"Liberation Sans", Arial, Helvetica, sans-serif' >10<tspan font-size="36" dy="-23.2" dx="-2.5" letter-spacing="-0.5">-2</tspan></text>
<text x="143.40" y="381.60" font-size="54" text-anchor="start" font-family='"Liberation Sans", Arial, Helvetica, sans-serif' >10<tspan font-size="36" dy="-23.2" dx="-2.5" letter-spacing="-0.5">-1</tspan></text>
<text x="1597.00" y="413.00" font-size="54" text-anchor="start" font-family='"Liberation Sans", Arial, Helvetica, sans-serif' >0.145</text>
<text x="1597.00" y="563.00" font-size="54" text-anchor="start" font-family='"Liberation Sans", Arial, Helvetica, sans-serif' >0.140</text>
<text x="1597.00" y="713.00" font-size="54" text-anchor="start" font-family='"Liberation Sans", Arial, Helvetica, sans-serif' >0.135</text>
<text x="1597.00" y="863.00" font-size="54" text-anchor="start" font-family='"Liberation Sans", Arial, Helvetica, sans-serif' >0.130</text>
<text x="1597.00" y="1013.00" font-size="54" text-anchor="start" font-family='"Liberation Sans", Arial, Helvetica, sans-serif' >0.125</text>
<text x="447.00" y="1225.70" font-size="82.5" text-anchor="start" font-family='"Liberation Sans", Arial, Helvetica, sans-serif' >Voltage (V)</text>
<text x="1196.00" y="1213.30" font-size="82.5" text-anchor="start" font-family='"Liberation Sans", Arial, Helvetica, sans-serif' >Basepl.</text>
<text x="1156.50" y="1316.00" font-size="82.5" text-anchor="start" font-family='"Liberation Sans", Arial, Helvetica, sans-serif' >temp. (°C)</text>
<text transform="translate(109,1116) rotate(-90)" font-size="82.5" font-family='"Liberation Sans", Arial, Helvetica, sans-serif'>Current density (A/cm<tspan font-size="56.5" dy="-34.5">2</tspan><tspan dy="34.5">)</tspan></text>
<text transform="translate(1831,893) rotate(-90)" font-size="82.5" font-family='"Liberation Sans", Arial, Helvetica, sans-serif'>R<tspan font-size="55" dy="22">s</tspan><tspan dy="-22"> (</tspan><tspan font-family='"Liberation Serif", "DejaVu Serif", serif'>Ω</tspan><tspan font-family='"Liberation Serif", "DejaVu Serif", serif' dx="-3.3">·</tspan><tspan dx="-3.4">cm</tspan><tspan font-size="56.5" dy="-33">2</tspan><tspan dy="33">)</tspan></text>
<text x="296.00" y="1035.00" font-size="82.5" text-anchor="start" font-family='"Liberation Sans", Arial, Helvetica, sans-serif' >a)</text>
<text x="1140.50" y="1028.00" font-size="82.5" text-anchor="start" font-family='"Liberation Sans", Arial, Helvetica, sans-serif' >b)</text>
<text x="263.20" y="91.00" font-size="54.5" text-anchor="start" font-family='"Liberation Sans", Arial, Helvetica, sans-serif' >Excitation [W/cm<tspan font-size="36.5" dy="-22">2</tspan><tspan dy="22">] @ 35.0 °C</tspan></text>
<text x="403.00" y="166.20" font-size="54.5" text-anchor="start" font-family='"Liberation Sans", Arial, Helvetica, sans-serif' >0.616 <tspan font-size="61" font-family='"Liberation Serif", "DejaVu Serif", serif'>µ</tspan></text>
<text x="403.00" y="234.40" font-size="54.5" text-anchor="start" font-family='"Liberation Sans", Arial, Helvetica, sans-serif' >1.73 m</text>
<text x="403.00" y="302.80" font-size="54.5" text-anchor="start" font-family='"Liberation Sans", Arial, Helvetica, sans-serif' >4.72 m</text>
<text x="798.50" y="166.20" font-size="54.5" text-anchor="start" font-family='"Liberation Sans", Arial, Helvetica, sans-serif' >10.4 m</text>
<text x="798.50" y="234.40" font-size="54.5" text-anchor="start" font-family='"Liberation Sans", Arial, Helvetica, sans-serif' >25.0 m</text>
<text x="798.50" y="302.80" font-size="54.5" text-anchor="start" font-family='"Liberation Sans", Arial, Helvetica, sans-serif' >57.6 m</text>
<text x="1186.00" y="166.20" font-size="54.5" text-anchor="start" font-family='"Liberation Sans", Arial, Helvetica, sans-serif' >235 m</text>
<text x="1186.00" y="234.40" font-size="54.5" text-anchor="start" font-family='"Liberation Sans", Arial, Helvetica, sans-serif' >781 m</text>
<text x="1186.00" y="302.80" font-size="54.5" text-anchor="start" font-family='"Liberation Sans", Arial, Helvetica, sans-serif' >2.01</text>
<text x="1579.00" y="166.20" font-size="54.5" text-anchor="start" font-family='"Liberation Sans", Arial, Helvetica, sans-serif' >5.14</text>
<text x="1579.00" y="234.40" font-size="54.5" text-anchor="start" font-family='"Liberation Sans", Arial, Helvetica, sans-serif' >7.02</text>
</g>
</svg>
</body>
</html>
